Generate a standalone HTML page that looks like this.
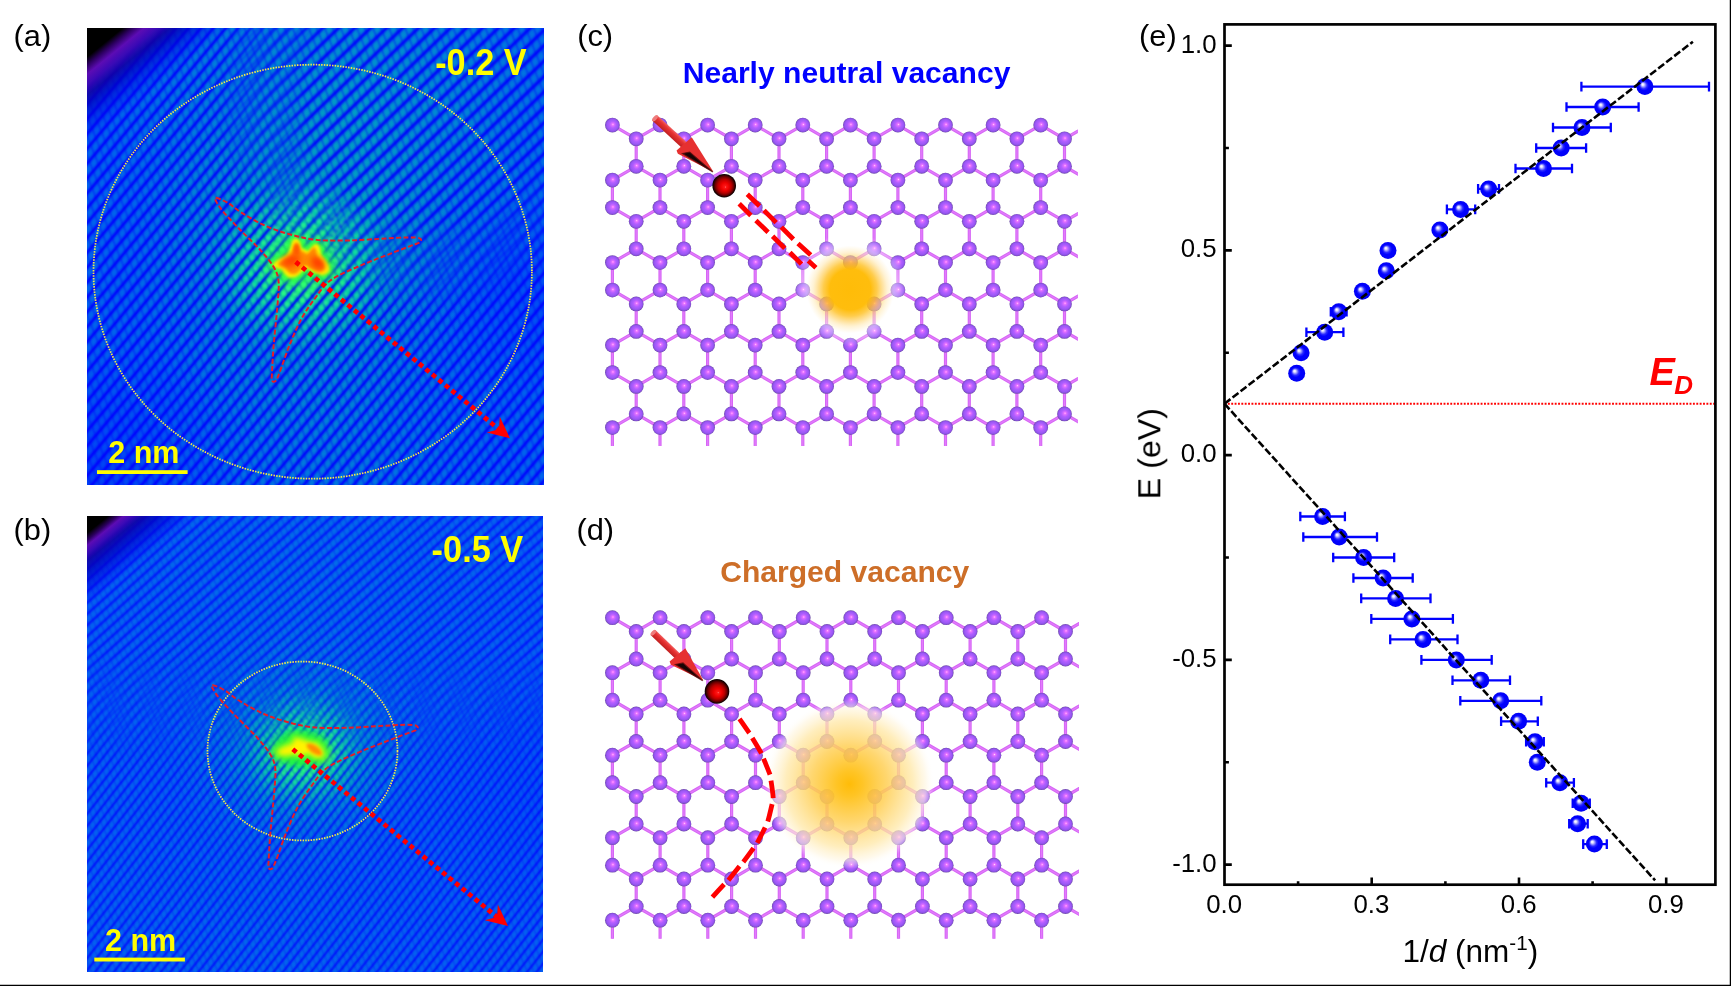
<!DOCTYPE html>
<html><head><meta charset="utf-8"><title>Figure</title>
<style>html,body{margin:0;padding:0;background:#fff;}body{width:1731px;height:986px;overflow:hidden;font-family:"Liberation Sans",sans-serif;}svg{display:block;}</style></head>
<body>
<svg width="1731" height="986" viewBox="0 0 1731 986" font-family='"Liberation Sans", sans-serif' fill="#000">
<defs>
<radialGradient id="ball" cx="0.5" cy="0.5" r="0.5" fx="0.36" fy="0.36">
<stop offset="0" stop-color="#ffffff"/><stop offset="0.12" stop-color="#e8e8ff"/><stop offset="0.42" stop-color="#2a2aff"/><stop offset="0.6" stop-color="#0000ff"/><stop offset="1" stop-color="#0000f4"/></radialGradient>
<linearGradient id="sgA1" x1="0" x2="1" y1="0" y2="0"><stop offset="0" stop-color="#0000ff" stop-opacity="0.950"/><stop offset="0.1" stop-color="#0000ff" stop-opacity="0.703"/><stop offset="0.2" stop-color="#0000ff" stop-opacity="0.323"/><stop offset="0.3" stop-color="#0000ff" stop-opacity="0.085"/><stop offset="0.4" stop-color="#0000ff" stop-opacity="0.009"/><stop offset="0.5" stop-color="#0000ff" stop-opacity="0.000"/><stop offset="0.6" stop-color="#0000ff" stop-opacity="0.009"/><stop offset="0.7" stop-color="#0000ff" stop-opacity="0.085"/><stop offset="0.8" stop-color="#0000ff" stop-opacity="0.323"/><stop offset="0.9" stop-color="#0000ff" stop-opacity="0.703"/><stop offset="1" stop-color="#0000ff" stop-opacity="0.950"/></linearGradient>
<pattern id="stripesA1" width="9.55" height="40" patternUnits="userSpaceOnUse" patternTransform="rotate(40)"><rect width="9.55" height="40" fill="url(#sgA1)"/></pattern>
<linearGradient id="sgA2" x1="0" x2="1" y1="0" y2="0"><stop offset="0" stop-color="#0000ff" stop-opacity="0.950"/><stop offset="0.1" stop-color="#0000ff" stop-opacity="0.703"/><stop offset="0.2" stop-color="#0000ff" stop-opacity="0.323"/><stop offset="0.3" stop-color="#0000ff" stop-opacity="0.085"/><stop offset="0.4" stop-color="#0000ff" stop-opacity="0.009"/><stop offset="0.5" stop-color="#0000ff" stop-opacity="0.000"/><stop offset="0.6" stop-color="#0000ff" stop-opacity="0.009"/><stop offset="0.7" stop-color="#0000ff" stop-opacity="0.085"/><stop offset="0.8" stop-color="#0000ff" stop-opacity="0.323"/><stop offset="0.9" stop-color="#0000ff" stop-opacity="0.703"/><stop offset="1" stop-color="#0000ff" stop-opacity="0.950"/></linearGradient>
<pattern id="stripesA2" width="11.1" height="40" patternUnits="userSpaceOnUse" patternTransform="rotate(46)"><rect width="11.1" height="40" fill="url(#sgA2)"/></pattern>
<radialGradient id="mgA1" gradientUnits="userSpaceOnUse" cx="430" cy="95" r="250"><stop offset="0" stop-color="#fff" stop-opacity="0"/><stop offset="0.5" stop-color="#fff" stop-opacity="0"/><stop offset="0.68" stop-color="#fff" stop-opacity="0.5"/><stop offset="0.86" stop-color="#fff" stop-opacity="1"/><stop offset="1" stop-color="#fff" stop-opacity="1"/></radialGradient>
<radialGradient id="mgA2" gradientUnits="userSpaceOnUse" cx="430" cy="95" r="250"><stop offset="0" stop-color="#fff" stop-opacity="1"/><stop offset="0.5" stop-color="#fff" stop-opacity="1"/><stop offset="0.68" stop-color="#fff" stop-opacity="0.5"/><stop offset="0.86" stop-color="#fff" stop-opacity="0"/><stop offset="1" stop-color="#fff" stop-opacity="0"/></radialGradient>
<mask id="mkA1" maskUnits="userSpaceOnUse" x="80" y="23" width="470" height="467"><rect x="80" y="23" width="470" height="467" fill="url(#mgA1)"/></mask>
<mask id="mkA2" maskUnits="userSpaceOnUse" x="80" y="23" width="470" height="467"><rect x="80" y="23" width="470" height="467" fill="url(#mgA2)"/></mask>
<linearGradient id="cgA" x1="0" x2="1" y1="0" y2="0"><stop offset="0" stop-color="#0000ff" stop-opacity="0.320"/><stop offset="0.1" stop-color="#0000ff" stop-opacity="0.237"/><stop offset="0.2" stop-color="#0000ff" stop-opacity="0.109"/><stop offset="0.3" stop-color="#0000ff" stop-opacity="0.029"/><stop offset="0.4" stop-color="#0000ff" stop-opacity="0.003"/><stop offset="0.5" stop-color="#0000ff" stop-opacity="0.000"/><stop offset="0.6" stop-color="#0000ff" stop-opacity="0.003"/><stop offset="0.7" stop-color="#0000ff" stop-opacity="0.029"/><stop offset="0.8" stop-color="#0000ff" stop-opacity="0.109"/><stop offset="0.9" stop-color="#0000ff" stop-opacity="0.237"/><stop offset="1" stop-color="#0000ff" stop-opacity="0.320"/></linearGradient>
<pattern id="crossA" width="7.45" height="40" patternUnits="userSpaceOnUse" patternTransform="rotate(-22)"><rect width="7.45" height="40" fill="url(#cgA)"/></pattern>
<pattern id="dotsA" width="9.55" height="6.49" patternUnits="userSpaceOnUse" patternTransform="rotate(40)"><ellipse cx="4.775" cy="3.25" rx="2.58" ry="2.34" fill="#3cff8c"/></pattern>
<radialGradient id="dmgA" gradientUnits="userSpaceOnUse" cx="301" cy="264" r="85"><stop offset="0" stop-color="#fff" stop-opacity="1"/><stop offset="0.35" stop-color="#fff" stop-opacity="0.8"/><stop offset="0.7" stop-color="#fff" stop-opacity="0.3"/><stop offset="1" stop-color="#fff" stop-opacity="0"/></radialGradient>
<mask id="dmkA" maskUnits="userSpaceOnUse" x="216" y="179" width="170" height="170"><rect x="216" y="179" width="170" height="170" fill="url(#dmgA)"/></mask>
<linearGradient id="sgB1" x1="0" x2="1" y1="0" y2="0"><stop offset="0" stop-color="#0000ff" stop-opacity="0.740"/><stop offset="0.1" stop-color="#0000ff" stop-opacity="0.548"/><stop offset="0.2" stop-color="#0000ff" stop-opacity="0.252"/><stop offset="0.3" stop-color="#0000ff" stop-opacity="0.067"/><stop offset="0.4" stop-color="#0000ff" stop-opacity="0.007"/><stop offset="0.5" stop-color="#0000ff" stop-opacity="0.000"/><stop offset="0.6" stop-color="#0000ff" stop-opacity="0.007"/><stop offset="0.7" stop-color="#0000ff" stop-opacity="0.067"/><stop offset="0.8" stop-color="#0000ff" stop-opacity="0.252"/><stop offset="0.9" stop-color="#0000ff" stop-opacity="0.548"/><stop offset="1" stop-color="#0000ff" stop-opacity="0.740"/></linearGradient>
<pattern id="stripesB1" width="7.4" height="40" patternUnits="userSpaceOnUse" patternTransform="rotate(38)"><rect width="7.4" height="40" fill="url(#sgB1)"/></pattern>
<linearGradient id="sgB2" x1="0" x2="1" y1="0" y2="0"><stop offset="0" stop-color="#0000ff" stop-opacity="0.720"/><stop offset="0.1" stop-color="#0000ff" stop-opacity="0.533"/><stop offset="0.2" stop-color="#0000ff" stop-opacity="0.245"/><stop offset="0.3" stop-color="#0000ff" stop-opacity="0.065"/><stop offset="0.4" stop-color="#0000ff" stop-opacity="0.007"/><stop offset="0.5" stop-color="#0000ff" stop-opacity="0.000"/><stop offset="0.6" stop-color="#0000ff" stop-opacity="0.007"/><stop offset="0.7" stop-color="#0000ff" stop-opacity="0.065"/><stop offset="0.8" stop-color="#0000ff" stop-opacity="0.245"/><stop offset="0.9" stop-color="#0000ff" stop-opacity="0.533"/><stop offset="1" stop-color="#0000ff" stop-opacity="0.720"/></linearGradient>
<pattern id="stripesB2" width="8.3" height="40" patternUnits="userSpaceOnUse" patternTransform="rotate(48)"><rect width="8.3" height="40" fill="url(#sgB2)"/></pattern>
<linearGradient id="mgB1" gradientUnits="userSpaceOnUse" x1="0" y1="516" x2="0" y2="972"><stop offset="0" stop-color="#fff" stop-opacity="0"/><stop offset="0.3" stop-color="#fff" stop-opacity="0"/><stop offset="0.42" stop-color="#fff" stop-opacity="0.5"/><stop offset="0.54" stop-color="#fff" stop-opacity="1"/><stop offset="1" stop-color="#fff" stop-opacity="1"/></linearGradient>
<linearGradient id="mgB2" gradientUnits="userSpaceOnUse" x1="0" y1="516" x2="0" y2="972"><stop offset="0" stop-color="#fff" stop-opacity="1"/><stop offset="0.3" stop-color="#fff" stop-opacity="1"/><stop offset="0.42" stop-color="#fff" stop-opacity="0.5"/><stop offset="0.54" stop-color="#fff" stop-opacity="0"/><stop offset="1" stop-color="#fff" stop-opacity="0"/></linearGradient>
<mask id="mkB1" maskUnits="userSpaceOnUse" x="80" y="511" width="470" height="466"><rect x="80" y="511" width="470" height="466" fill="url(#mgB1)"/></mask>
<mask id="mkB2" maskUnits="userSpaceOnUse" x="80" y="511" width="470" height="466"><rect x="80" y="511" width="470" height="466" fill="url(#mgB2)"/></mask>
<linearGradient id="cgB" x1="0" x2="1" y1="0" y2="0"><stop offset="0" stop-color="#0000ff" stop-opacity="0.200"/><stop offset="0.1" stop-color="#0000ff" stop-opacity="0.148"/><stop offset="0.2" stop-color="#0000ff" stop-opacity="0.068"/><stop offset="0.3" stop-color="#0000ff" stop-opacity="0.018"/><stop offset="0.4" stop-color="#0000ff" stop-opacity="0.002"/><stop offset="0.5" stop-color="#0000ff" stop-opacity="0.000"/><stop offset="0.6" stop-color="#0000ff" stop-opacity="0.002"/><stop offset="0.7" stop-color="#0000ff" stop-opacity="0.018"/><stop offset="0.8" stop-color="#0000ff" stop-opacity="0.068"/><stop offset="0.9" stop-color="#0000ff" stop-opacity="0.148"/><stop offset="1" stop-color="#0000ff" stop-opacity="0.200"/></linearGradient>
<pattern id="crossB" width="5.77" height="40" patternUnits="userSpaceOnUse" patternTransform="rotate(-24)"><rect width="5.77" height="40" fill="url(#cgB)"/></pattern>
<pattern id="dotsB" width="7.4" height="5.03" patternUnits="userSpaceOnUse" patternTransform="rotate(38)"><ellipse cx="3.7" cy="2.52" rx="2.00" ry="1.81" fill="#3cff8c"/></pattern>
<radialGradient id="dmgB" gradientUnits="userSpaceOnUse" cx="304" cy="750" r="60"><stop offset="0" stop-color="#fff" stop-opacity="1"/><stop offset="0.35" stop-color="#fff" stop-opacity="0.8"/><stop offset="0.7" stop-color="#fff" stop-opacity="0.3"/><stop offset="1" stop-color="#fff" stop-opacity="0"/></radialGradient>
<mask id="dmkB" maskUnits="userSpaceOnUse" x="244" y="690" width="120" height="120"><rect x="244" y="690" width="120" height="120" fill="url(#dmgB)"/></mask>
<filter id="bl1" x="-30%" y="-30%" width="160%" height="160%"><feGaussianBlur stdDeviation="1.3"/></filter>
<filter id="bl2" x="-30%" y="-30%" width="160%" height="160%"><feGaussianBlur stdDeviation="1.8"/></filter>
<filter id="bl3" x="-30%" y="-30%" width="160%" height="160%"><feGaussianBlur stdDeviation="3"/></filter>
<filter id="bl8" x="-50%" y="-50%" width="200%" height="200%"><feGaussianBlur stdDeviation="8"/></filter>
<filter id="bl20" x="-60%" y="-60%" width="220%" height="220%"><feGaussianBlur stdDeviation="20"/></filter>
<filter id="bl14" x="-50%" y="-50%" width="200%" height="200%"><feGaussianBlur stdDeviation="14"/></filter>
<linearGradient id="cornA" gradientUnits="userSpaceOnUse" x1="87" y1="28" x2="143.7" y2="97.9"><stop offset="0" stop-color="#000"/><stop offset="0.25" stop-color="#000"/><stop offset="0.32" stop-color="#2c0060"/><stop offset="0.40" stop-color="#5c0cb4"/><stop offset="0.49" stop-color="#3c08b4" stop-opacity="0.97"/><stop offset="0.58" stop-color="#1000a4" stop-opacity="0.9"/><stop offset="0.68" stop-color="#0000c0" stop-opacity="0.75"/><stop offset="0.8" stop-color="#0000e0" stop-opacity="0.5"/><stop offset="1" stop-color="#0000ff" stop-opacity="0"/></linearGradient>
<clipPath id="clipA"><rect x="87" y="28" width="457" height="457"/></clipPath>
<radialGradient id="lgA0" gradientUnits="userSpaceOnUse" cx="350" cy="110" r="240"><stop offset="0" stop-color="#00a2c2" stop-opacity="0.92"/><stop offset="0.5" stop-color="#00a2c2" stop-opacity="0.51"/><stop offset="1" stop-color="#00a2c2" stop-opacity="0"/></radialGradient>
<radialGradient id="lgA1" gradientUnits="userSpaceOnUse" cx="330" cy="430" r="170"><stop offset="0" stop-color="#0088d2" stop-opacity="0.75"/><stop offset="0.5" stop-color="#0088d2" stop-opacity="0.41"/><stop offset="1" stop-color="#0088d2" stop-opacity="0"/></radialGradient>
<radialGradient id="lgA2" gradientUnits="userSpaceOnUse" cx="300" cy="265" r="175"><stop offset="0" stop-color="#00c8a0" stop-opacity="0.5"/><stop offset="0.5" stop-color="#00c8a0" stop-opacity="0.28"/><stop offset="1" stop-color="#00c8a0" stop-opacity="0"/></radialGradient>
<radialGradient id="lgA3" gradientUnits="userSpaceOnUse" cx="90" cy="480" r="150"><stop offset="0" stop-color="#0038f8" stop-opacity="0.8"/><stop offset="0.5" stop-color="#0038f8" stop-opacity="0.44"/><stop offset="1" stop-color="#0038f8" stop-opacity="0"/></radialGradient>
<radialGradient id="lgA4" gradientUnits="userSpaceOnUse" cx="560" cy="300" r="110"><stop offset="0" stop-color="#0040f8" stop-opacity="0.7"/><stop offset="0.5" stop-color="#0040f8" stop-opacity="0.39"/><stop offset="1" stop-color="#0040f8" stop-opacity="0"/></radialGradient>
<linearGradient id="cornB" gradientUnits="userSpaceOnUse" x1="87" y1="516" x2="131.1" y2="570.4"><stop offset="0" stop-color="#000"/><stop offset="0.19" stop-color="#000"/><stop offset="0.27" stop-color="#2c0060"/><stop offset="0.33" stop-color="#5c0cb4"/><stop offset="0.41" stop-color="#3c08b4" stop-opacity="0.97"/><stop offset="0.5" stop-color="#1000a4" stop-opacity="0.9"/><stop offset="0.64" stop-color="#0000c0" stop-opacity="0.75"/><stop offset="0.8" stop-color="#0000e0" stop-opacity="0.5"/><stop offset="1" stop-color="#0000ff" stop-opacity="0"/></linearGradient>
<clipPath id="clipB"><rect x="87" y="516" width="456" height="456"/></clipPath>
<radialGradient id="lgB0" gradientUnits="userSpaceOnUse" cx="300" cy="600" r="230"><stop offset="0" stop-color="#0084da" stop-opacity="0.4"/><stop offset="0.5" stop-color="#0084da" stop-opacity="0.22"/><stop offset="1" stop-color="#0084da" stop-opacity="0"/></radialGradient>
<radialGradient id="lgB1" gradientUnits="userSpaceOnUse" cx="303" cy="752" r="130"><stop offset="0" stop-color="#00b4b0" stop-opacity="0.45"/><stop offset="0.5" stop-color="#00b4b0" stop-opacity="0.25"/><stop offset="1" stop-color="#00b4b0" stop-opacity="0"/></radialGradient>
<radialGradient id="lgB2" gradientUnits="userSpaceOnUse" cx="250" cy="930" r="170"><stop offset="0" stop-color="#0070e4" stop-opacity="0.4"/><stop offset="0.5" stop-color="#0070e4" stop-opacity="0.22"/><stop offset="1" stop-color="#0070e4" stop-opacity="0"/></radialGradient>
<radialGradient id="lgB3" gradientUnits="userSpaceOnUse" cx="560" cy="800" r="130"><stop offset="0" stop-color="#0040f8" stop-opacity="0.5"/><stop offset="0.5" stop-color="#0040f8" stop-opacity="0.28"/><stop offset="1" stop-color="#0040f8" stop-opacity="0"/></radialGradient>
<radialGradient id="atom" cx="0.5" cy="0.5" r="0.5" fx="0.54" fy="0.45"><stop offset="0" stop-color="#ffe0ff"/><stop offset="0.09" stop-color="#f686ff"/><stop offset="0.2" stop-color="#dc6eff"/><stop offset="0.45" stop-color="#b25eff"/><stop offset="0.74" stop-color="#9c58f6"/><stop offset="0.9" stop-color="#8850dc"/><stop offset="1" stop-color="#66469e"/></radialGradient>
<radialGradient id="rball" cx="0.5" cy="0.5" r="0.5" fx="0.55" fy="0.56"><stop offset="0" stop-color="#ff9090"/><stop offset="0.07" stop-color="#ff1818"/><stop offset="0.34" stop-color="#ec0000"/><stop offset="0.58" stop-color="#b80000"/><stop offset="0.78" stop-color="#6c0000"/><stop offset="0.92" stop-color="#240000"/><stop offset="1" stop-color="#000"/></radialGradient>
<radialGradient id="glowC" gradientUnits="userSpaceOnUse" cx="850.2" cy="289.4" r="57"><stop offset="0" stop-color="#ffbc08"/><stop offset="0.36" stop-color="#ffbc08" stop-opacity="0.98"/><stop offset="0.47" stop-color="#ffc020" stop-opacity="0.8"/><stop offset="0.56" stop-color="#ffd060" stop-opacity="0.66"/><stop offset="0.65" stop-color="#ffe8b0" stop-opacity="0.55"/><stop offset="0.77" stop-color="#ffffff" stop-opacity="0.46"/><stop offset="0.9" stop-color="#ffffff" stop-opacity="0.22"/><stop offset="1" stop-color="#ffffff" stop-opacity="0"/></radialGradient>
<radialGradient id="glowD" gradientUnits="userSpaceOnUse" cx="849.4" cy="784" r="85"><stop offset="0" stop-color="#ffbc08" stop-opacity="1"/><stop offset="0.15" stop-color="#ffc21c" stop-opacity="0.96"/><stop offset="0.45" stop-color="#ffd058" stop-opacity="0.86"/><stop offset="0.75" stop-color="#ffe8a8" stop-opacity="0.76"/><stop offset="0.9" stop-color="#fff6e0" stop-opacity="0.6"/><stop offset="1" stop-color="#ffffff" stop-opacity="0"/></radialGradient>
<linearGradient id="headsh" x1="0" y1="0" x2="0" y2="1"><stop offset="0" stop-color="#e83030"/><stop offset="0.5" stop-color="#e22c2c"/><stop offset="0.62" stop-color="#701010"/><stop offset="0.8" stop-color="#000"/><stop offset="1" stop-color="#e03030"/></linearGradient>
<linearGradient id="shaft" x1="0" y1="0" x2="0" y2="1"><stop offset="0" stop-color="#f06060"/><stop offset="0.35" stop-color="#e83232"/><stop offset="1" stop-color="#c02020"/></linearGradient>
<symbol id="at" viewBox="-7.5 -7.5 15 15" overflow="visible"><circle r="7.35" fill="url(#atom)"/></symbol>
<clipPath id="lcC"><rect x="604.5" y="112" width="473.4" height="334.10"/></clipPath>
<clipPath id="lcD"><rect x="604.5" y="604" width="474.5" height="334.65"/></clipPath>
</defs>
<g clip-path="url(#clipA)">
<rect x="87" y="28" width="457" height="457" fill="#0064ec"/>
<rect x="87" y="28" width="457" height="457" fill="url(#lgA0)"/>
<rect x="87" y="28" width="457" height="457" fill="url(#lgA1)"/>
<rect x="87" y="28" width="457" height="457" fill="url(#lgA2)"/>
<rect x="87" y="28" width="457" height="457" fill="url(#lgA3)"/>
<rect x="87" y="28" width="457" height="457" fill="url(#lgA4)"/>
<ellipse cx="305" cy="266" rx="82" ry="66" fill="#00e6a0" opacity="0.62" filter="url(#bl20)"/><ellipse cx="303" cy="267" rx="50" ry="42" fill="#10f878" opacity="0.7" filter="url(#bl14)"/><ellipse cx="301" cy="266" rx="30" ry="25" fill="#30ff50" opacity="0.9" filter="url(#bl8)"/>
<rect x="87" y="28" width="457" height="457" fill="url(#stripesA1)" mask="url(#mkA1)"/>
<rect x="87" y="28" width="457" height="457" fill="url(#stripesA2)" mask="url(#mkA2)"/>
<rect x="87" y="28" width="457" height="457" fill="url(#crossA)"/>
<rect x="87" y="28" width="457" height="457" fill="url(#dotsA)" mask="url(#dmkA)" filter="url(#bl1)"/>
<ellipse cx="301" cy="262" rx="34" ry="25" fill="#20ff50" opacity="0.5" filter="url(#bl8)"/><path d="M274.4 264.6C274.9 263.4 278.5 261.3 280.8 259.8C283.1 258.3 286.3 257.6 288.1 255.7C289.9 253.8 290.4 250.8 291.4 248.4C292.3 246.0 292.9 242.5 293.8 241.1C294.7 239.7 295.9 239.6 296.7 239.9C297.5 240.2 298.1 241.3 298.7 242.7C299.3 244.1 299.2 247.0 300.3 248.4C301.4 249.8 303.9 250.6 305.2 251.2C306.5 251.9 307.2 253.0 308.4 252.5C309.6 252.0 311.3 249.6 312.5 248.4C313.7 247.2 314.7 245.4 315.7 245.3C316.7 245.2 317.9 246.4 318.6 248.0C319.3 249.6 319.1 252.9 319.8 254.9C320.6 256.9 321.9 258.0 323.1 259.8C324.3 261.6 326.3 263.8 327.1 265.5C327.9 267.2 328.6 268.9 327.9 270.3C327.2 271.7 325.0 273.3 323.1 273.6C321.2 273.9 318.8 272.7 316.6 271.9C314.4 271.1 311.7 269.6 310.1 268.7C308.5 267.8 307.9 266.3 306.8 266.3C305.7 266.3 305.0 267.6 303.6 268.7C302.2 269.8 300.1 271.6 298.7 272.8C297.3 274.0 297.1 275.1 295.5 275.6C293.9 276.1 290.8 276.6 289.0 276.0C287.2 275.4 286.0 273.2 284.9 271.9C283.8 270.6 283.7 269.1 282.5 268.3C281.3 267.5 279.0 267.7 277.6 267.1C276.2 266.5 273.9 265.8 274.4 264.6Z" fill="#30ff30" stroke="#30ff30" stroke-width="9" stroke-linejoin="round" filter="url(#bl3)" opacity="0.9"/><path d="M274.4 264.6C274.9 263.4 278.5 261.3 280.8 259.8C283.1 258.3 286.3 257.6 288.1 255.7C289.9 253.8 290.4 250.8 291.4 248.4C292.3 246.0 292.9 242.5 293.8 241.1C294.7 239.7 295.9 239.6 296.7 239.9C297.5 240.2 298.1 241.3 298.7 242.7C299.3 244.1 299.2 247.0 300.3 248.4C301.4 249.8 303.9 250.6 305.2 251.2C306.5 251.9 307.2 253.0 308.4 252.5C309.6 252.0 311.3 249.6 312.5 248.4C313.7 247.2 314.7 245.4 315.7 245.3C316.7 245.2 317.9 246.4 318.6 248.0C319.3 249.6 319.1 252.9 319.8 254.9C320.6 256.9 321.9 258.0 323.1 259.8C324.3 261.6 326.3 263.8 327.1 265.5C327.9 267.2 328.6 268.9 327.9 270.3C327.2 271.7 325.0 273.3 323.1 273.6C321.2 273.9 318.8 272.7 316.6 271.9C314.4 271.1 311.7 269.6 310.1 268.7C308.5 267.8 307.9 266.3 306.8 266.3C305.7 266.3 305.0 267.6 303.6 268.7C302.2 269.8 300.1 271.6 298.7 272.8C297.3 274.0 297.1 275.1 295.5 275.6C293.9 276.1 290.8 276.6 289.0 276.0C287.2 275.4 286.0 273.2 284.9 271.9C283.8 270.6 283.7 269.1 282.5 268.3C281.3 267.5 279.0 267.7 277.6 267.1C276.2 266.5 273.9 265.8 274.4 264.6Z" fill="#fff000" stroke="#fff000" stroke-width="3" stroke-linejoin="round" filter="url(#bl2)"/><path d="M274.4 264.6C274.9 263.4 278.5 261.3 280.8 259.8C283.1 258.3 286.3 257.6 288.1 255.7C289.9 253.8 290.4 250.8 291.4 248.4C292.3 246.0 292.9 242.5 293.8 241.1C294.7 239.7 295.9 239.6 296.7 239.9C297.5 240.2 298.1 241.3 298.7 242.7C299.3 244.1 299.2 247.0 300.3 248.4C301.4 249.8 303.9 250.6 305.2 251.2C306.5 251.9 307.2 253.0 308.4 252.5C309.6 252.0 311.3 249.6 312.5 248.4C313.7 247.2 314.7 245.4 315.7 245.3C316.7 245.2 317.9 246.4 318.6 248.0C319.3 249.6 319.1 252.9 319.8 254.9C320.6 256.9 321.9 258.0 323.1 259.8C324.3 261.6 326.3 263.8 327.1 265.5C327.9 267.2 328.6 268.9 327.9 270.3C327.2 271.7 325.0 273.3 323.1 273.6C321.2 273.9 318.8 272.7 316.6 271.9C314.4 271.1 311.7 269.6 310.1 268.7C308.5 267.8 307.9 266.3 306.8 266.3C305.7 266.3 305.0 267.6 303.6 268.7C302.2 269.8 300.1 271.6 298.7 272.8C297.3 274.0 297.1 275.1 295.5 275.6C293.9 276.1 290.8 276.6 289.0 276.0C287.2 275.4 286.0 273.2 284.9 271.9C283.8 270.6 283.7 269.1 282.5 268.3C281.3 267.5 279.0 267.7 277.6 267.1C276.2 266.5 273.9 265.8 274.4 264.6Z" fill="#ff8a00" transform="translate(301 260) scale(0.86) translate(-301 -260)" filter="url(#bl2)"/><ellipse cx="291" cy="260.5" rx="10" ry="5.5" transform="rotate(-24 291 260.5)" fill="#ff4200" filter="url(#bl3)"/><ellipse cx="318" cy="263" rx="8" ry="5.5" transform="rotate(40 318 263)" fill="#ff3a00" filter="url(#bl3)"/><ellipse cx="296.5" cy="250" rx="3" ry="6" fill="#ff5a00" filter="url(#bl2)"/>
<rect x="87" y="28" width="200" height="200" fill="url(#cornA)"/>
</g>
<ellipse cx="312.7" cy="271.7" rx="219.2" ry="207" fill="none" stroke="#f4ea48" stroke-width="1.75" stroke-dasharray="1.5 1.2"/>
<path d="M216.0 197.7C218.1 198.0 224.6 200.9 228.7 203.3C232.8 205.8 234.8 208.6 240.9 212.3C247.0 216.1 257.1 222.1 265.2 225.7C273.3 229.4 281.0 231.9 289.6 234.3C298.1 236.6 306.2 238.8 316.4 239.9C326.5 240.9 338.7 240.6 350.4 240.4C362.2 240.1 377.2 238.9 387.0 238.4C396.7 237.9 403.4 237.4 408.9 237.4C414.4 237.4 418.0 237.6 419.8 238.4C421.7 239.2 421.3 241.1 419.8 242.3C418.4 243.5 416.8 243.6 411.3 245.7C405.8 247.8 395.1 251.8 387.0 255.0C378.8 258.1 370.7 261.2 362.6 264.7C354.5 268.1 344.4 272.4 338.3 275.7C332.2 278.9 329.7 280.7 326.1 284.2C322.4 287.6 320.4 290.7 316.4 296.4C312.3 302.0 306.2 310.2 301.7 318.3C297.3 326.4 293.2 336.1 289.6 345.0C285.9 354.0 282.2 365.8 279.8 371.8C277.5 377.8 276.7 379.7 275.4 381.1C274.1 382.5 272.6 381.9 272.0 380.4C271.5 378.8 271.8 377.7 272.0 371.8C272.3 365.9 272.8 356.0 273.7 345.0C274.6 334.1 276.6 316.6 277.4 306.1C278.2 295.5 279.2 288.2 278.6 281.7C278.0 275.3 276.8 272.4 273.7 267.1C270.7 261.9 265.8 256.2 260.4 250.1C254.9 244.0 247.0 236.9 240.9 230.6C234.8 224.3 227.9 217.1 223.8 212.3C219.8 207.6 217.8 204.3 216.5 201.9C215.2 199.4 214.0 197.5 216.0 197.7Z" fill="none" stroke="#e61c26" stroke-width="1.95" stroke-dasharray="5 2.3"/>
<g transform="translate(297.6 263.5) rotate(39.47)"><line x1="-2.5" y1="0" x2="266.1" y2="0" stroke="#ff0000" stroke-width="4.7" stroke-dasharray="4.7 3.72"/><path d="M275.1 0L253.5 -10.3L260.9 0L253.5 10.3Z" fill="#ff0000"/></g>
<g clip-path="url(#clipB)">
<rect x="87" y="516" width="456" height="456" fill="#0460f0"/>
<rect x="87" y="516" width="456" height="456" fill="url(#lgB0)"/>
<rect x="87" y="516" width="456" height="456" fill="url(#lgB1)"/>
<rect x="87" y="516" width="456" height="456" fill="url(#lgB2)"/>
<rect x="87" y="516" width="456" height="456" fill="url(#lgB3)"/>
<ellipse cx="304" cy="752" rx="62" ry="50" fill="#00e6a0" opacity="0.5" filter="url(#bl20)"/><ellipse cx="303" cy="753" rx="38" ry="30" fill="#10f878" opacity="0.65" filter="url(#bl14)"/><ellipse cx="303" cy="751" rx="26" ry="17" fill="#30ff50" opacity="0.9" filter="url(#bl8)"/>
<rect x="87" y="516" width="456" height="456" fill="url(#stripesB1)" mask="url(#mkB1)"/>
<rect x="87" y="516" width="456" height="456" fill="url(#stripesB2)" mask="url(#mkB2)"/>
<rect x="87" y="516" width="456" height="456" fill="url(#crossB)"/>
<rect x="87" y="516" width="456" height="456" fill="url(#dotsB)" mask="url(#dmkB)" filter="url(#bl1)"/>
<ellipse cx="301" cy="748.5" rx="27" ry="18" fill="#10f040" opacity="0.85" filter="url(#bl3)"/><path d="M274.5 752.2C274.9 750.6 279.0 748.1 281.8 746.5C284.6 744.9 289.5 744.1 291.5 742.5C293.5 740.9 292.8 737.6 294.0 736.8C295.2 736.0 296.7 737.1 298.8 737.6C300.9 738.1 304.7 739.3 306.9 740.0C309.1 740.7 309.9 741.3 311.8 741.7C313.7 742.1 316.3 741.3 318.3 742.5C320.3 743.7 322.6 746.8 324.0 749.0C325.4 751.2 326.7 753.9 326.4 755.5C326.1 757.1 324.3 758.3 322.4 758.7C320.5 759.1 317.4 758.7 315.1 757.9C312.8 757.1 310.5 754.1 308.6 753.8C306.7 753.5 305.3 756.0 303.7 756.3C302.1 756.6 300.6 755.9 298.8 755.5C297.0 755.1 295.0 754.1 293.1 754.2C291.2 754.3 289.8 755.6 287.5 755.9C285.2 756.2 281.6 756.5 279.4 755.9C277.2 755.3 274.1 753.8 274.5 752.2Z" fill="#60ff20" stroke="#60ff20" stroke-width="7" stroke-linejoin="round" filter="url(#bl3)" opacity="0.9"/><path d="M274.5 752.2C274.9 750.6 279.0 748.1 281.8 746.5C284.6 744.9 289.5 744.1 291.5 742.5C293.5 740.9 292.8 737.6 294.0 736.8C295.2 736.0 296.7 737.1 298.8 737.6C300.9 738.1 304.7 739.3 306.9 740.0C309.1 740.7 309.9 741.3 311.8 741.7C313.7 742.1 316.3 741.3 318.3 742.5C320.3 743.7 322.6 746.8 324.0 749.0C325.4 751.2 326.7 753.9 326.4 755.5C326.1 757.1 324.3 758.3 322.4 758.7C320.5 759.1 317.4 758.7 315.1 757.9C312.8 757.1 310.5 754.1 308.6 753.8C306.7 753.5 305.3 756.0 303.7 756.3C302.1 756.6 300.6 755.9 298.8 755.5C297.0 755.1 295.0 754.1 293.1 754.2C291.2 754.3 289.8 755.6 287.5 755.9C285.2 756.2 281.6 756.5 279.4 755.9C277.2 755.3 274.1 753.8 274.5 752.2Z" fill="#fff400" transform="translate(301 749) scale(0.9) translate(-301 -749)" filter="url(#bl3)"/><ellipse cx="314.2" cy="749.4" rx="9" ry="3.8" transform="rotate(35 314.2 749.4)" fill="#ff9000" filter="url(#bl2)"/>
<rect x="87" y="516" width="160" height="160" fill="url(#cornB)"/>
</g>
<ellipse cx="302.5" cy="751" rx="95" ry="89.5" fill="none" stroke="#f4ea48" stroke-width="1.75" stroke-dasharray="1.5 1.2"/>
<path d="M212.7 685.1C214.8 685.4 221.3 688.3 225.4 690.7C229.5 693.2 231.5 696.0 237.6 699.7C243.7 703.5 253.8 709.5 261.9 713.1C270.0 716.8 277.7 719.3 286.3 721.7C294.8 724.0 302.9 726.2 313.1 727.3C323.2 728.3 335.4 728.0 347.1 727.8C358.9 727.5 373.9 726.3 383.7 725.8C393.4 725.3 400.1 724.8 405.6 724.8C411.1 724.8 414.7 725.0 416.5 725.8C418.4 726.6 418.0 728.5 416.5 729.7C415.1 730.9 413.5 731.0 408.0 733.1C402.5 735.2 391.8 739.2 383.7 742.4C375.5 745.5 367.4 748.6 359.3 752.1C351.2 755.5 341.1 759.8 335.0 763.1C328.9 766.3 326.4 768.1 322.8 771.6C319.1 775.0 317.1 778.1 313.1 783.8C309.0 789.4 302.9 797.6 298.4 805.7C294.0 813.8 289.9 823.5 286.3 832.4C282.6 841.4 278.9 853.2 276.5 859.2C274.2 865.2 273.4 867.1 272.1 868.5C270.8 869.9 269.3 869.3 268.7 867.8C268.2 866.2 268.5 865.1 268.7 859.2C269.0 853.3 269.5 843.4 270.4 832.4C271.3 821.5 273.3 804.0 274.1 793.5C274.9 782.9 275.9 775.6 275.3 769.1C274.7 762.7 273.5 759.8 270.4 754.5C267.4 749.3 262.5 743.6 257.1 737.5C251.6 731.4 243.7 724.3 237.6 718.0C231.5 711.7 224.6 704.5 220.5 699.7C216.5 695.0 214.5 691.7 213.2 689.3C211.9 686.8 210.7 684.9 212.7 685.1Z" fill="none" stroke="#e61c26" stroke-width="1.95" stroke-dasharray="5 2.3"/>
<g transform="translate(294.7 750.8) rotate(39.41)"><line x1="-2.5" y1="0" x2="267.1" y2="0" stroke="#ff0000" stroke-width="4.7" stroke-dasharray="4.7 3.72"/><path d="M276.1 0L254.5 -10.3L261.9 0L254.5 10.3Z" fill="#ff0000"/></g>
<g opacity="0.999"><text transform="translate(526.6 74.5) scale(1.008 1.073)" font-size="34" font-weight="bold" fill="#ffff00" text-anchor="end">-0.2 V</text>
<text transform="translate(523.2 561.9) scale(1.01 1.06)" font-size="34" font-weight="bold" fill="#ffff00" text-anchor="end">-0.5 V</text>
<text x="143.8" y="463" font-size="30.5" font-weight="bold" fill="#ffff00" text-anchor="middle">2 nm</text>
<rect x="97" y="470.2" width="90.6" height="3.8" fill="#ffff00"/>
<text x="140.65" y="950.65" font-size="30.5" font-weight="bold" fill="#ffff00" text-anchor="middle">2 nm</text>
<rect x="94.3" y="957.6" width="90.6" height="3.9" fill="#ffff00"/></g>
<g clip-path="url(#lcC)">
<path d="M612.4 125.1L636.2 138.8M636.2 138.8L636.2 166.3M636.2 166.3L612.4 180.1M636.2 166.3L660.0 180.1M612.4 180.1L612.4 207.6M660.0 125.1L683.8 138.8M660.0 125.1L636.2 138.8M683.8 138.8L683.8 166.3M683.8 166.3L660.0 180.1M683.8 166.3L707.6 180.1M660.0 180.1L660.0 207.6M707.6 125.1L731.4 138.8M707.6 125.1L683.8 138.8M731.4 138.8L731.4 166.3M731.4 166.3L707.6 180.1M731.4 166.3L755.2 180.1M707.6 180.1L707.6 207.6M755.2 125.1L779.0 138.8M755.2 125.1L731.4 138.8M779.0 138.8L779.0 166.3M779.0 166.3L755.2 180.1M779.0 166.3L802.8 180.1M755.2 180.1L755.2 207.6M802.8 125.1L826.6 138.8M802.8 125.1L779.0 138.8M826.6 138.8L826.6 166.3M826.6 166.3L802.8 180.1M826.6 166.3L850.4 180.1M802.8 180.1L802.8 207.6M850.4 125.1L874.1 138.8M850.4 125.1L826.6 138.8M874.1 138.8L874.1 166.3M874.1 166.3L850.4 180.1M874.1 166.3L897.9 180.1M850.4 180.1L850.4 207.6M897.9 125.1L921.7 138.8M897.9 125.1L874.1 138.8M921.7 138.8L921.7 166.3M921.7 166.3L897.9 180.1M921.7 166.3L945.5 180.1M897.9 180.1L897.9 207.6M945.5 125.1L969.3 138.8M945.5 125.1L921.7 138.8M969.3 138.8L969.3 166.3M969.3 166.3L945.5 180.1M969.3 166.3L993.1 180.1M945.5 180.1L945.5 207.6M993.1 125.1L1016.9 138.8M993.1 125.1L969.3 138.8M1016.9 138.8L1016.9 166.3M1016.9 166.3L993.1 180.1M1016.9 166.3L1040.7 180.1M993.1 180.1L993.1 207.6M1040.7 125.1L1064.5 138.8M1040.7 125.1L1016.9 138.8M1064.5 138.8L1064.5 166.3M1064.5 166.3L1040.7 180.1M1064.5 166.3L1088.3 180.1M1040.7 180.1L1040.7 207.6M1088.3 125.1L1112.1 138.8M1088.3 125.1L1064.5 138.8M1112.1 138.8L1112.1 166.3M1112.1 166.3L1088.3 180.1M1112.1 166.3L1135.9 180.1M1088.3 180.1L1088.3 207.6M612.4 207.6L636.2 221.3M636.2 221.3L636.2 248.8M636.2 248.8L612.4 262.6M636.2 248.8L660.0 262.6M612.4 262.6L612.4 290.1M660.0 207.6L683.8 221.3M660.0 207.6L636.2 221.3M683.8 221.3L683.8 248.8M683.8 248.8L660.0 262.6M683.8 248.8L707.6 262.6M660.0 262.6L660.0 290.1M707.6 207.6L731.4 221.3M707.6 207.6L683.8 221.3M731.4 221.3L731.4 248.8M731.4 248.8L707.6 262.6M731.4 248.8L755.2 262.6M707.6 262.6L707.6 290.1M755.2 207.6L779.0 221.3M755.2 207.6L731.4 221.3M779.0 221.3L779.0 248.8M779.0 248.8L755.2 262.6M779.0 248.8L802.8 262.6M755.2 262.6L755.2 290.1M802.8 207.6L826.6 221.3M802.8 207.6L779.0 221.3M826.6 221.3L826.6 248.8M826.6 248.8L802.8 262.6M826.6 248.8L850.4 262.6M802.8 262.6L802.8 290.1M850.4 207.6L874.1 221.3M850.4 207.6L826.6 221.3M874.1 221.3L874.1 248.8M874.1 248.8L850.4 262.6M874.1 248.8L897.9 262.6M897.9 207.6L921.7 221.3M897.9 207.6L874.1 221.3M921.7 221.3L921.7 248.8M921.7 248.8L897.9 262.6M921.7 248.8L945.5 262.6M897.9 262.6L897.9 290.1M945.5 207.6L969.3 221.3M945.5 207.6L921.7 221.3M969.3 221.3L969.3 248.8M969.3 248.8L945.5 262.6M969.3 248.8L993.1 262.6M945.5 262.6L945.5 290.1M993.1 207.6L1016.9 221.3M993.1 207.6L969.3 221.3M1016.9 221.3L1016.9 248.8M1016.9 248.8L993.1 262.6M1016.9 248.8L1040.7 262.6M993.1 262.6L993.1 290.1M1040.7 207.6L1064.5 221.3M1040.7 207.6L1016.9 221.3M1064.5 221.3L1064.5 248.8M1064.5 248.8L1040.7 262.6M1064.5 248.8L1088.3 262.6M1040.7 262.6L1040.7 290.1M1088.3 207.6L1112.1 221.3M1088.3 207.6L1064.5 221.3M1112.1 221.3L1112.1 248.8M1112.1 248.8L1088.3 262.6M1112.1 248.8L1135.9 262.6M1088.3 262.6L1088.3 290.1M612.4 290.1L636.2 303.9M636.2 303.9L636.2 331.4M636.2 331.4L612.4 345.1M636.2 331.4L660.0 345.1M612.4 345.1L612.4 372.6M660.0 290.1L683.8 303.9M660.0 290.1L636.2 303.9M683.8 303.9L683.8 331.4M683.8 331.4L660.0 345.1M683.8 331.4L707.6 345.1M660.0 345.1L660.0 372.6M707.6 290.1L731.4 303.9M707.6 290.1L683.8 303.9M731.4 303.9L731.4 331.4M731.4 331.4L707.6 345.1M731.4 331.4L755.2 345.1M707.6 345.1L707.6 372.6M755.2 290.1L779.0 303.9M755.2 290.1L731.4 303.9M779.0 303.9L779.0 331.4M779.0 331.4L755.2 345.1M779.0 331.4L802.8 345.1M755.2 345.1L755.2 372.6M802.8 290.1L826.6 303.9M802.8 290.1L779.0 303.9M826.6 303.9L826.6 331.4M826.6 331.4L802.8 345.1M826.6 331.4L850.4 345.1M802.8 345.1L802.8 372.6M874.1 303.9L874.1 331.4M874.1 331.4L850.4 345.1M874.1 331.4L897.9 345.1M850.4 345.1L850.4 372.6M897.9 290.1L921.7 303.9M897.9 290.1L874.1 303.9M921.7 303.9L921.7 331.4M921.7 331.4L897.9 345.1M921.7 331.4L945.5 345.1M897.9 345.1L897.9 372.6M945.5 290.1L969.3 303.9M945.5 290.1L921.7 303.9M969.3 303.9L969.3 331.4M969.3 331.4L945.5 345.1M969.3 331.4L993.1 345.1M945.5 345.1L945.5 372.6M993.1 290.1L1016.9 303.9M993.1 290.1L969.3 303.9M1016.9 303.9L1016.9 331.4M1016.9 331.4L993.1 345.1M1016.9 331.4L1040.7 345.1M993.1 345.1L993.1 372.6M1040.7 290.1L1064.5 303.9M1040.7 290.1L1016.9 303.9M1064.5 303.9L1064.5 331.4M1064.5 331.4L1040.7 345.1M1064.5 331.4L1088.3 345.1M1040.7 345.1L1040.7 372.6M1088.3 290.1L1112.1 303.9M1088.3 290.1L1064.5 303.9M1112.1 303.9L1112.1 331.4M1112.1 331.4L1088.3 345.1M1112.1 331.4L1135.9 345.1M1088.3 345.1L1088.3 372.6M612.4 372.6L636.2 386.4M636.2 386.4L636.2 413.9M636.2 413.9L612.4 427.6M636.2 413.9L660.0 427.6M612.4 427.6L612.4 455.1M660.0 372.6L683.8 386.4M660.0 372.6L636.2 386.4M683.8 386.4L683.8 413.9M683.8 413.9L660.0 427.6M683.8 413.9L707.6 427.6M660.0 427.6L660.0 455.1M707.6 372.6L731.4 386.4M707.6 372.6L683.8 386.4M731.4 386.4L731.4 413.9M731.4 413.9L707.6 427.6M731.4 413.9L755.2 427.6M707.6 427.6L707.6 455.1M755.2 372.6L779.0 386.4M755.2 372.6L731.4 386.4M779.0 386.4L779.0 413.9M779.0 413.9L755.2 427.6M779.0 413.9L802.8 427.6M755.2 427.6L755.2 455.1M802.8 372.6L826.6 386.4M802.8 372.6L779.0 386.4M826.6 386.4L826.6 413.9M826.6 413.9L802.8 427.6M826.6 413.9L850.4 427.6M802.8 427.6L802.8 455.1M850.4 372.6L874.1 386.4M850.4 372.6L826.6 386.4M874.1 386.4L874.1 413.9M874.1 413.9L850.4 427.6M874.1 413.9L897.9 427.6M850.4 427.6L850.4 455.1M897.9 372.6L921.7 386.4M897.9 372.6L874.1 386.4M921.7 386.4L921.7 413.9M921.7 413.9L897.9 427.6M921.7 413.9L945.5 427.6M897.9 427.6L897.9 455.1M945.5 372.6L969.3 386.4M945.5 372.6L921.7 386.4M969.3 386.4L969.3 413.9M969.3 413.9L945.5 427.6M969.3 413.9L993.1 427.6M945.5 427.6L945.5 455.1M993.1 372.6L1016.9 386.4M993.1 372.6L969.3 386.4M1016.9 386.4L1016.9 413.9M1016.9 413.9L993.1 427.6M1016.9 413.9L1040.7 427.6M993.1 427.6L993.1 455.1M1040.7 372.6L1064.5 386.4M1040.7 372.6L1016.9 386.4M1064.5 386.4L1064.5 413.9M1064.5 413.9L1040.7 427.6M1064.5 413.9L1088.3 427.6M1040.7 427.6L1040.7 455.1M1088.3 372.6L1112.1 386.4M1088.3 372.6L1064.5 386.4M1112.1 386.4L1112.1 413.9M1112.1 413.9L1088.3 427.6M1112.1 413.9L1135.9 427.6M1088.3 427.6L1088.3 455.1" stroke="#d666f5" stroke-width="3.2" fill="none"/>
<path d="M612.4 125.1L636.2 138.8M636.2 138.8L636.2 166.3M636.2 166.3L612.4 180.1M636.2 166.3L660.0 180.1M612.4 180.1L612.4 207.6M660.0 125.1L683.8 138.8M660.0 125.1L636.2 138.8M683.8 138.8L683.8 166.3M683.8 166.3L660.0 180.1M683.8 166.3L707.6 180.1M660.0 180.1L660.0 207.6M707.6 125.1L731.4 138.8M707.6 125.1L683.8 138.8M731.4 138.8L731.4 166.3M731.4 166.3L707.6 180.1M731.4 166.3L755.2 180.1M707.6 180.1L707.6 207.6M755.2 125.1L779.0 138.8M755.2 125.1L731.4 138.8M779.0 138.8L779.0 166.3M779.0 166.3L755.2 180.1M779.0 166.3L802.8 180.1M755.2 180.1L755.2 207.6M802.8 125.1L826.6 138.8M802.8 125.1L779.0 138.8M826.6 138.8L826.6 166.3M826.6 166.3L802.8 180.1M826.6 166.3L850.4 180.1M802.8 180.1L802.8 207.6M850.4 125.1L874.1 138.8M850.4 125.1L826.6 138.8M874.1 138.8L874.1 166.3M874.1 166.3L850.4 180.1M874.1 166.3L897.9 180.1M850.4 180.1L850.4 207.6M897.9 125.1L921.7 138.8M897.9 125.1L874.1 138.8M921.7 138.8L921.7 166.3M921.7 166.3L897.9 180.1M921.7 166.3L945.5 180.1M897.9 180.1L897.9 207.6M945.5 125.1L969.3 138.8M945.5 125.1L921.7 138.8M969.3 138.8L969.3 166.3M969.3 166.3L945.5 180.1M969.3 166.3L993.1 180.1M945.5 180.1L945.5 207.6M993.1 125.1L1016.9 138.8M993.1 125.1L969.3 138.8M1016.9 138.8L1016.9 166.3M1016.9 166.3L993.1 180.1M1016.9 166.3L1040.7 180.1M993.1 180.1L993.1 207.6M1040.7 125.1L1064.5 138.8M1040.7 125.1L1016.9 138.8M1064.5 138.8L1064.5 166.3M1064.5 166.3L1040.7 180.1M1064.5 166.3L1088.3 180.1M1040.7 180.1L1040.7 207.6M1088.3 125.1L1112.1 138.8M1088.3 125.1L1064.5 138.8M1112.1 138.8L1112.1 166.3M1112.1 166.3L1088.3 180.1M1112.1 166.3L1135.9 180.1M1088.3 180.1L1088.3 207.6M612.4 207.6L636.2 221.3M636.2 221.3L636.2 248.8M636.2 248.8L612.4 262.6M636.2 248.8L660.0 262.6M612.4 262.6L612.4 290.1M660.0 207.6L683.8 221.3M660.0 207.6L636.2 221.3M683.8 221.3L683.8 248.8M683.8 248.8L660.0 262.6M683.8 248.8L707.6 262.6M660.0 262.6L660.0 290.1M707.6 207.6L731.4 221.3M707.6 207.6L683.8 221.3M731.4 221.3L731.4 248.8M731.4 248.8L707.6 262.6M731.4 248.8L755.2 262.6M707.6 262.6L707.6 290.1M755.2 207.6L779.0 221.3M755.2 207.6L731.4 221.3M779.0 221.3L779.0 248.8M779.0 248.8L755.2 262.6M779.0 248.8L802.8 262.6M755.2 262.6L755.2 290.1M802.8 207.6L826.6 221.3M802.8 207.6L779.0 221.3M826.6 221.3L826.6 248.8M826.6 248.8L802.8 262.6M826.6 248.8L850.4 262.6M802.8 262.6L802.8 290.1M850.4 207.6L874.1 221.3M850.4 207.6L826.6 221.3M874.1 221.3L874.1 248.8M874.1 248.8L850.4 262.6M874.1 248.8L897.9 262.6M897.9 207.6L921.7 221.3M897.9 207.6L874.1 221.3M921.7 221.3L921.7 248.8M921.7 248.8L897.9 262.6M921.7 248.8L945.5 262.6M897.9 262.6L897.9 290.1M945.5 207.6L969.3 221.3M945.5 207.6L921.7 221.3M969.3 221.3L969.3 248.8M969.3 248.8L945.5 262.6M969.3 248.8L993.1 262.6M945.5 262.6L945.5 290.1M993.1 207.6L1016.9 221.3M993.1 207.6L969.3 221.3M1016.9 221.3L1016.9 248.8M1016.9 248.8L993.1 262.6M1016.9 248.8L1040.7 262.6M993.1 262.6L993.1 290.1M1040.7 207.6L1064.5 221.3M1040.7 207.6L1016.9 221.3M1064.5 221.3L1064.5 248.8M1064.5 248.8L1040.7 262.6M1064.5 248.8L1088.3 262.6M1040.7 262.6L1040.7 290.1M1088.3 207.6L1112.1 221.3M1088.3 207.6L1064.5 221.3M1112.1 221.3L1112.1 248.8M1112.1 248.8L1088.3 262.6M1112.1 248.8L1135.9 262.6M1088.3 262.6L1088.3 290.1M612.4 290.1L636.2 303.9M636.2 303.9L636.2 331.4M636.2 331.4L612.4 345.1M636.2 331.4L660.0 345.1M612.4 345.1L612.4 372.6M660.0 290.1L683.8 303.9M660.0 290.1L636.2 303.9M683.8 303.9L683.8 331.4M683.8 331.4L660.0 345.1M683.8 331.4L707.6 345.1M660.0 345.1L660.0 372.6M707.6 290.1L731.4 303.9M707.6 290.1L683.8 303.9M731.4 303.9L731.4 331.4M731.4 331.4L707.6 345.1M731.4 331.4L755.2 345.1M707.6 345.1L707.6 372.6M755.2 290.1L779.0 303.9M755.2 290.1L731.4 303.9M779.0 303.9L779.0 331.4M779.0 331.4L755.2 345.1M779.0 331.4L802.8 345.1M755.2 345.1L755.2 372.6M802.8 290.1L826.6 303.9M802.8 290.1L779.0 303.9M826.6 303.9L826.6 331.4M826.6 331.4L802.8 345.1M826.6 331.4L850.4 345.1M802.8 345.1L802.8 372.6M874.1 303.9L874.1 331.4M874.1 331.4L850.4 345.1M874.1 331.4L897.9 345.1M850.4 345.1L850.4 372.6M897.9 290.1L921.7 303.9M897.9 290.1L874.1 303.9M921.7 303.9L921.7 331.4M921.7 331.4L897.9 345.1M921.7 331.4L945.5 345.1M897.9 345.1L897.9 372.6M945.5 290.1L969.3 303.9M945.5 290.1L921.7 303.9M969.3 303.9L969.3 331.4M969.3 331.4L945.5 345.1M969.3 331.4L993.1 345.1M945.5 345.1L945.5 372.6M993.1 290.1L1016.9 303.9M993.1 290.1L969.3 303.9M1016.9 303.9L1016.9 331.4M1016.9 331.4L993.1 345.1M1016.9 331.4L1040.7 345.1M993.1 345.1L993.1 372.6M1040.7 290.1L1064.5 303.9M1040.7 290.1L1016.9 303.9M1064.5 303.9L1064.5 331.4M1064.5 331.4L1040.7 345.1M1064.5 331.4L1088.3 345.1M1040.7 345.1L1040.7 372.6M1088.3 290.1L1112.1 303.9M1088.3 290.1L1064.5 303.9M1112.1 303.9L1112.1 331.4M1112.1 331.4L1088.3 345.1M1112.1 331.4L1135.9 345.1M1088.3 345.1L1088.3 372.6M612.4 372.6L636.2 386.4M636.2 386.4L636.2 413.9M636.2 413.9L612.4 427.6M636.2 413.9L660.0 427.6M612.4 427.6L612.4 455.1M660.0 372.6L683.8 386.4M660.0 372.6L636.2 386.4M683.8 386.4L683.8 413.9M683.8 413.9L660.0 427.6M683.8 413.9L707.6 427.6M660.0 427.6L660.0 455.1M707.6 372.6L731.4 386.4M707.6 372.6L683.8 386.4M731.4 386.4L731.4 413.9M731.4 413.9L707.6 427.6M731.4 413.9L755.2 427.6M707.6 427.6L707.6 455.1M755.2 372.6L779.0 386.4M755.2 372.6L731.4 386.4M779.0 386.4L779.0 413.9M779.0 413.9L755.2 427.6M779.0 413.9L802.8 427.6M755.2 427.6L755.2 455.1M802.8 372.6L826.6 386.4M802.8 372.6L779.0 386.4M826.6 386.4L826.6 413.9M826.6 413.9L802.8 427.6M826.6 413.9L850.4 427.6M802.8 427.6L802.8 455.1M850.4 372.6L874.1 386.4M850.4 372.6L826.6 386.4M874.1 386.4L874.1 413.9M874.1 413.9L850.4 427.6M874.1 413.9L897.9 427.6M850.4 427.6L850.4 455.1M897.9 372.6L921.7 386.4M897.9 372.6L874.1 386.4M921.7 386.4L921.7 413.9M921.7 413.9L897.9 427.6M921.7 413.9L945.5 427.6M897.9 427.6L897.9 455.1M945.5 372.6L969.3 386.4M945.5 372.6L921.7 386.4M969.3 386.4L969.3 413.9M969.3 413.9L945.5 427.6M969.3 413.9L993.1 427.6M945.5 427.6L945.5 455.1M993.1 372.6L1016.9 386.4M993.1 372.6L969.3 386.4M1016.9 386.4L1016.9 413.9M1016.9 413.9L993.1 427.6M1016.9 413.9L1040.7 427.6M993.1 427.6L993.1 455.1M1040.7 372.6L1064.5 386.4M1040.7 372.6L1016.9 386.4M1064.5 386.4L1064.5 413.9M1064.5 413.9L1040.7 427.6M1064.5 413.9L1088.3 427.6M1040.7 427.6L1040.7 455.1M1088.3 372.6L1112.1 386.4M1088.3 372.6L1064.5 386.4M1112.1 386.4L1112.1 413.9M1112.1 413.9L1088.3 427.6M1112.1 413.9L1135.9 427.6M1088.3 427.6L1088.3 455.1" stroke="#e27cfb" stroke-width="1.2" fill="none"/>
<circle cx="612.4" cy="125.1" r="7.4" fill="url(#atom)"/>
<circle cx="636.2" cy="138.8" r="7.4" fill="url(#atom)"/>
<circle cx="636.2" cy="166.3" r="7.4" fill="url(#atom)"/>
<circle cx="612.4" cy="180.1" r="7.4" fill="url(#atom)"/>
<circle cx="660.0" cy="125.1" r="7.4" fill="url(#atom)"/>
<circle cx="683.8" cy="138.8" r="7.4" fill="url(#atom)"/>
<circle cx="683.8" cy="166.3" r="7.4" fill="url(#atom)"/>
<circle cx="660.0" cy="180.1" r="7.4" fill="url(#atom)"/>
<circle cx="707.6" cy="125.1" r="7.4" fill="url(#atom)"/>
<circle cx="731.4" cy="138.8" r="7.4" fill="url(#atom)"/>
<circle cx="731.4" cy="166.3" r="7.4" fill="url(#atom)"/>
<circle cx="707.6" cy="180.1" r="7.4" fill="url(#atom)"/>
<circle cx="755.2" cy="125.1" r="7.4" fill="url(#atom)"/>
<circle cx="779.0" cy="138.8" r="7.4" fill="url(#atom)"/>
<circle cx="779.0" cy="166.3" r="7.4" fill="url(#atom)"/>
<circle cx="755.2" cy="180.1" r="7.4" fill="url(#atom)"/>
<circle cx="802.8" cy="125.1" r="7.4" fill="url(#atom)"/>
<circle cx="826.6" cy="138.8" r="7.4" fill="url(#atom)"/>
<circle cx="826.6" cy="166.3" r="7.4" fill="url(#atom)"/>
<circle cx="802.8" cy="180.1" r="7.4" fill="url(#atom)"/>
<circle cx="850.4" cy="125.1" r="7.4" fill="url(#atom)"/>
<circle cx="874.1" cy="138.8" r="7.4" fill="url(#atom)"/>
<circle cx="874.1" cy="166.3" r="7.4" fill="url(#atom)"/>
<circle cx="850.4" cy="180.1" r="7.4" fill="url(#atom)"/>
<circle cx="897.9" cy="125.1" r="7.4" fill="url(#atom)"/>
<circle cx="921.7" cy="138.8" r="7.4" fill="url(#atom)"/>
<circle cx="921.7" cy="166.3" r="7.4" fill="url(#atom)"/>
<circle cx="897.9" cy="180.1" r="7.4" fill="url(#atom)"/>
<circle cx="945.5" cy="125.1" r="7.4" fill="url(#atom)"/>
<circle cx="969.3" cy="138.8" r="7.4" fill="url(#atom)"/>
<circle cx="969.3" cy="166.3" r="7.4" fill="url(#atom)"/>
<circle cx="945.5" cy="180.1" r="7.4" fill="url(#atom)"/>
<circle cx="993.1" cy="125.1" r="7.4" fill="url(#atom)"/>
<circle cx="1016.9" cy="138.8" r="7.4" fill="url(#atom)"/>
<circle cx="1016.9" cy="166.3" r="7.4" fill="url(#atom)"/>
<circle cx="993.1" cy="180.1" r="7.4" fill="url(#atom)"/>
<circle cx="1040.7" cy="125.1" r="7.4" fill="url(#atom)"/>
<circle cx="1064.5" cy="138.8" r="7.4" fill="url(#atom)"/>
<circle cx="1064.5" cy="166.3" r="7.4" fill="url(#atom)"/>
<circle cx="1040.7" cy="180.1" r="7.4" fill="url(#atom)"/>
<circle cx="1088.3" cy="125.1" r="7.4" fill="url(#atom)"/>
<circle cx="1112.1" cy="138.8" r="7.4" fill="url(#atom)"/>
<circle cx="1112.1" cy="166.3" r="7.4" fill="url(#atom)"/>
<circle cx="1088.3" cy="180.1" r="7.4" fill="url(#atom)"/>
<circle cx="612.4" cy="207.6" r="7.4" fill="url(#atom)"/>
<circle cx="636.2" cy="221.3" r="7.4" fill="url(#atom)"/>
<circle cx="636.2" cy="248.8" r="7.4" fill="url(#atom)"/>
<circle cx="612.4" cy="262.6" r="7.4" fill="url(#atom)"/>
<circle cx="660.0" cy="207.6" r="7.4" fill="url(#atom)"/>
<circle cx="683.8" cy="221.3" r="7.4" fill="url(#atom)"/>
<circle cx="683.8" cy="248.8" r="7.4" fill="url(#atom)"/>
<circle cx="660.0" cy="262.6" r="7.4" fill="url(#atom)"/>
<circle cx="707.6" cy="207.6" r="7.4" fill="url(#atom)"/>
<circle cx="731.4" cy="221.3" r="7.4" fill="url(#atom)"/>
<circle cx="731.4" cy="248.8" r="7.4" fill="url(#atom)"/>
<circle cx="707.6" cy="262.6" r="7.4" fill="url(#atom)"/>
<circle cx="755.2" cy="207.6" r="7.4" fill="url(#atom)"/>
<circle cx="779.0" cy="221.3" r="7.4" fill="url(#atom)"/>
<circle cx="779.0" cy="248.8" r="7.4" fill="url(#atom)"/>
<circle cx="755.2" cy="262.6" r="7.4" fill="url(#atom)"/>
<circle cx="802.8" cy="207.6" r="7.4" fill="url(#atom)"/>
<circle cx="826.6" cy="221.3" r="7.4" fill="url(#atom)"/>
<circle cx="826.6" cy="248.8" r="7.4" fill="url(#atom)"/>
<circle cx="802.8" cy="262.6" r="7.4" fill="url(#atom)"/>
<circle cx="850.4" cy="207.6" r="7.4" fill="url(#atom)"/>
<circle cx="874.1" cy="221.3" r="7.4" fill="url(#atom)"/>
<circle cx="874.1" cy="248.8" r="7.4" fill="url(#atom)"/>
<circle cx="850.4" cy="262.6" r="7.4" fill="url(#atom)"/>
<circle cx="897.9" cy="207.6" r="7.4" fill="url(#atom)"/>
<circle cx="921.7" cy="221.3" r="7.4" fill="url(#atom)"/>
<circle cx="921.7" cy="248.8" r="7.4" fill="url(#atom)"/>
<circle cx="897.9" cy="262.6" r="7.4" fill="url(#atom)"/>
<circle cx="945.5" cy="207.6" r="7.4" fill="url(#atom)"/>
<circle cx="969.3" cy="221.3" r="7.4" fill="url(#atom)"/>
<circle cx="969.3" cy="248.8" r="7.4" fill="url(#atom)"/>
<circle cx="945.5" cy="262.6" r="7.4" fill="url(#atom)"/>
<circle cx="993.1" cy="207.6" r="7.4" fill="url(#atom)"/>
<circle cx="1016.9" cy="221.3" r="7.4" fill="url(#atom)"/>
<circle cx="1016.9" cy="248.8" r="7.4" fill="url(#atom)"/>
<circle cx="993.1" cy="262.6" r="7.4" fill="url(#atom)"/>
<circle cx="1040.7" cy="207.6" r="7.4" fill="url(#atom)"/>
<circle cx="1064.5" cy="221.3" r="7.4" fill="url(#atom)"/>
<circle cx="1064.5" cy="248.8" r="7.4" fill="url(#atom)"/>
<circle cx="1040.7" cy="262.6" r="7.4" fill="url(#atom)"/>
<circle cx="1088.3" cy="207.6" r="7.4" fill="url(#atom)"/>
<circle cx="1112.1" cy="221.3" r="7.4" fill="url(#atom)"/>
<circle cx="1112.1" cy="248.8" r="7.4" fill="url(#atom)"/>
<circle cx="1088.3" cy="262.6" r="7.4" fill="url(#atom)"/>
<circle cx="612.4" cy="290.1" r="7.4" fill="url(#atom)"/>
<circle cx="636.2" cy="303.9" r="7.4" fill="url(#atom)"/>
<circle cx="636.2" cy="331.4" r="7.4" fill="url(#atom)"/>
<circle cx="612.4" cy="345.1" r="7.4" fill="url(#atom)"/>
<circle cx="660.0" cy="290.1" r="7.4" fill="url(#atom)"/>
<circle cx="683.8" cy="303.9" r="7.4" fill="url(#atom)"/>
<circle cx="683.8" cy="331.4" r="7.4" fill="url(#atom)"/>
<circle cx="660.0" cy="345.1" r="7.4" fill="url(#atom)"/>
<circle cx="707.6" cy="290.1" r="7.4" fill="url(#atom)"/>
<circle cx="731.4" cy="303.9" r="7.4" fill="url(#atom)"/>
<circle cx="731.4" cy="331.4" r="7.4" fill="url(#atom)"/>
<circle cx="707.6" cy="345.1" r="7.4" fill="url(#atom)"/>
<circle cx="755.2" cy="290.1" r="7.4" fill="url(#atom)"/>
<circle cx="779.0" cy="303.9" r="7.4" fill="url(#atom)"/>
<circle cx="779.0" cy="331.4" r="7.4" fill="url(#atom)"/>
<circle cx="755.2" cy="345.1" r="7.4" fill="url(#atom)"/>
<circle cx="802.8" cy="290.1" r="7.4" fill="url(#atom)"/>
<circle cx="826.6" cy="303.9" r="7.4" fill="url(#atom)"/>
<circle cx="826.6" cy="331.4" r="7.4" fill="url(#atom)"/>
<circle cx="802.8" cy="345.1" r="7.4" fill="url(#atom)"/>
<circle cx="874.1" cy="303.9" r="7.4" fill="url(#atom)"/>
<circle cx="874.1" cy="331.4" r="7.4" fill="url(#atom)"/>
<circle cx="850.4" cy="345.1" r="7.4" fill="url(#atom)"/>
<circle cx="897.9" cy="290.1" r="7.4" fill="url(#atom)"/>
<circle cx="921.7" cy="303.9" r="7.4" fill="url(#atom)"/>
<circle cx="921.7" cy="331.4" r="7.4" fill="url(#atom)"/>
<circle cx="897.9" cy="345.1" r="7.4" fill="url(#atom)"/>
<circle cx="945.5" cy="290.1" r="7.4" fill="url(#atom)"/>
<circle cx="969.3" cy="303.9" r="7.4" fill="url(#atom)"/>
<circle cx="969.3" cy="331.4" r="7.4" fill="url(#atom)"/>
<circle cx="945.5" cy="345.1" r="7.4" fill="url(#atom)"/>
<circle cx="993.1" cy="290.1" r="7.4" fill="url(#atom)"/>
<circle cx="1016.9" cy="303.9" r="7.4" fill="url(#atom)"/>
<circle cx="1016.9" cy="331.4" r="7.4" fill="url(#atom)"/>
<circle cx="993.1" cy="345.1" r="7.4" fill="url(#atom)"/>
<circle cx="1040.7" cy="290.1" r="7.4" fill="url(#atom)"/>
<circle cx="1064.5" cy="303.9" r="7.4" fill="url(#atom)"/>
<circle cx="1064.5" cy="331.4" r="7.4" fill="url(#atom)"/>
<circle cx="1040.7" cy="345.1" r="7.4" fill="url(#atom)"/>
<circle cx="1088.3" cy="290.1" r="7.4" fill="url(#atom)"/>
<circle cx="1112.1" cy="303.9" r="7.4" fill="url(#atom)"/>
<circle cx="1112.1" cy="331.4" r="7.4" fill="url(#atom)"/>
<circle cx="1088.3" cy="345.1" r="7.4" fill="url(#atom)"/>
<circle cx="612.4" cy="372.6" r="7.4" fill="url(#atom)"/>
<circle cx="636.2" cy="386.4" r="7.4" fill="url(#atom)"/>
<circle cx="636.2" cy="413.9" r="7.4" fill="url(#atom)"/>
<circle cx="612.4" cy="427.6" r="7.4" fill="url(#atom)"/>
<circle cx="660.0" cy="372.6" r="7.4" fill="url(#atom)"/>
<circle cx="683.8" cy="386.4" r="7.4" fill="url(#atom)"/>
<circle cx="683.8" cy="413.9" r="7.4" fill="url(#atom)"/>
<circle cx="660.0" cy="427.6" r="7.4" fill="url(#atom)"/>
<circle cx="707.6" cy="372.6" r="7.4" fill="url(#atom)"/>
<circle cx="731.4" cy="386.4" r="7.4" fill="url(#atom)"/>
<circle cx="731.4" cy="413.9" r="7.4" fill="url(#atom)"/>
<circle cx="707.6" cy="427.6" r="7.4" fill="url(#atom)"/>
<circle cx="755.2" cy="372.6" r="7.4" fill="url(#atom)"/>
<circle cx="779.0" cy="386.4" r="7.4" fill="url(#atom)"/>
<circle cx="779.0" cy="413.9" r="7.4" fill="url(#atom)"/>
<circle cx="755.2" cy="427.6" r="7.4" fill="url(#atom)"/>
<circle cx="802.8" cy="372.6" r="7.4" fill="url(#atom)"/>
<circle cx="826.6" cy="386.4" r="7.4" fill="url(#atom)"/>
<circle cx="826.6" cy="413.9" r="7.4" fill="url(#atom)"/>
<circle cx="802.8" cy="427.6" r="7.4" fill="url(#atom)"/>
<circle cx="850.4" cy="372.6" r="7.4" fill="url(#atom)"/>
<circle cx="874.1" cy="386.4" r="7.4" fill="url(#atom)"/>
<circle cx="874.1" cy="413.9" r="7.4" fill="url(#atom)"/>
<circle cx="850.4" cy="427.6" r="7.4" fill="url(#atom)"/>
<circle cx="897.9" cy="372.6" r="7.4" fill="url(#atom)"/>
<circle cx="921.7" cy="386.4" r="7.4" fill="url(#atom)"/>
<circle cx="921.7" cy="413.9" r="7.4" fill="url(#atom)"/>
<circle cx="897.9" cy="427.6" r="7.4" fill="url(#atom)"/>
<circle cx="945.5" cy="372.6" r="7.4" fill="url(#atom)"/>
<circle cx="969.3" cy="386.4" r="7.4" fill="url(#atom)"/>
<circle cx="969.3" cy="413.9" r="7.4" fill="url(#atom)"/>
<circle cx="945.5" cy="427.6" r="7.4" fill="url(#atom)"/>
<circle cx="993.1" cy="372.6" r="7.4" fill="url(#atom)"/>
<circle cx="1016.9" cy="386.4" r="7.4" fill="url(#atom)"/>
<circle cx="1016.9" cy="413.9" r="7.4" fill="url(#atom)"/>
<circle cx="993.1" cy="427.6" r="7.4" fill="url(#atom)"/>
<circle cx="1040.7" cy="372.6" r="7.4" fill="url(#atom)"/>
<circle cx="1064.5" cy="386.4" r="7.4" fill="url(#atom)"/>
<circle cx="1064.5" cy="413.9" r="7.4" fill="url(#atom)"/>
<circle cx="1040.7" cy="427.6" r="7.4" fill="url(#atom)"/>
<circle cx="1088.3" cy="372.6" r="7.4" fill="url(#atom)"/>
<circle cx="1112.1" cy="386.4" r="7.4" fill="url(#atom)"/>
<circle cx="1112.1" cy="413.9" r="7.4" fill="url(#atom)"/>
<circle cx="1088.3" cy="427.6" r="7.4" fill="url(#atom)"/>
<circle cx="850.2" cy="289.4" r="57" fill="url(#glowC)"/>
</g>
<g clip-path="url(#lcD)">
<path d="M612.4 617.7L636.2 631.5M636.2 631.5L636.2 659.0M636.2 659.0L612.4 672.7M636.2 659.0L660.1 672.7M612.4 672.7L612.4 700.2M660.1 617.7L683.9 631.5M660.1 617.7L636.2 631.5M683.9 631.5L683.9 659.0M683.9 659.0L660.1 672.7M683.9 659.0L707.8 672.7M660.1 672.7L660.1 700.2M707.8 617.7L731.6 631.5M707.8 617.7L683.9 631.5M731.6 631.5L731.6 659.0M731.6 659.0L707.8 672.7M731.6 659.0L755.5 672.7M707.8 672.7L707.8 700.2M755.5 617.7L779.3 631.5M755.5 617.7L731.6 631.5M779.3 631.5L779.3 659.0M779.3 659.0L755.5 672.7M779.3 659.0L803.2 672.7M755.5 672.7L755.5 700.2M803.2 617.7L827.0 631.5M803.2 617.7L779.3 631.5M827.0 631.5L827.0 659.0M827.0 659.0L803.2 672.7M827.0 659.0L850.8 672.7M803.2 672.7L803.2 700.2M850.8 617.7L874.7 631.5M850.8 617.7L827.0 631.5M874.7 631.5L874.7 659.0M874.7 659.0L850.8 672.7M874.7 659.0L898.5 672.7M850.8 672.7L850.8 700.2M898.5 617.7L922.4 631.5M898.5 617.7L874.7 631.5M922.4 631.5L922.4 659.0M922.4 659.0L898.5 672.7M922.4 659.0L946.2 672.7M898.5 672.7L898.5 700.2M946.2 617.7L970.1 631.5M946.2 617.7L922.4 631.5M970.1 631.5L970.1 659.0M970.1 659.0L946.2 672.7M970.1 659.0L993.9 672.7M946.2 672.7L946.2 700.2M993.9 617.7L1017.8 631.5M993.9 617.7L970.1 631.5M1017.8 631.5L1017.8 659.0M1017.8 659.0L993.9 672.7M1017.8 659.0L1041.6 672.7M993.9 672.7L993.9 700.2M1041.6 617.7L1065.5 631.5M1041.6 617.7L1017.8 631.5M1065.5 631.5L1065.5 659.0M1065.5 659.0L1041.6 672.7M1065.5 659.0L1089.3 672.7M1041.6 672.7L1041.6 700.2M1089.3 617.7L1113.1 631.5M1089.3 617.7L1065.5 631.5M1113.1 631.5L1113.1 659.0M1113.1 659.0L1089.3 672.7M1113.1 659.0L1137.0 672.7M1089.3 672.7L1089.3 700.2M612.4 700.2L636.2 714.0M636.2 714.0L636.2 741.5M636.2 741.5L612.4 755.2M636.2 741.5L660.1 755.2M612.4 755.2L612.4 782.7M660.1 700.2L683.9 714.0M660.1 700.2L636.2 714.0M683.9 714.0L683.9 741.5M683.9 741.5L660.1 755.2M683.9 741.5L707.8 755.2M660.1 755.2L660.1 782.7M707.8 700.2L731.6 714.0M707.8 700.2L683.9 714.0M731.6 714.0L731.6 741.5M731.6 741.5L707.8 755.2M731.6 741.5L755.5 755.2M707.8 755.2L707.8 782.7M755.5 700.2L779.3 714.0M755.5 700.2L731.6 714.0M779.3 714.0L779.3 741.5M779.3 741.5L755.5 755.2M779.3 741.5L803.2 755.2M755.5 755.2L755.5 782.7M803.2 700.2L827.0 714.0M803.2 700.2L779.3 714.0M827.0 714.0L827.0 741.5M827.0 741.5L803.2 755.2M827.0 741.5L850.8 755.2M803.2 755.2L803.2 782.7M850.8 700.2L874.7 714.0M850.8 700.2L827.0 714.0M874.7 714.0L874.7 741.5M874.7 741.5L850.8 755.2M874.7 741.5L898.5 755.2M898.5 700.2L922.4 714.0M898.5 700.2L874.7 714.0M922.4 714.0L922.4 741.5M922.4 741.5L898.5 755.2M922.4 741.5L946.2 755.2M898.5 755.2L898.5 782.7M946.2 700.2L970.1 714.0M946.2 700.2L922.4 714.0M970.1 714.0L970.1 741.5M970.1 741.5L946.2 755.2M970.1 741.5L993.9 755.2M946.2 755.2L946.2 782.7M993.9 700.2L1017.8 714.0M993.9 700.2L970.1 714.0M1017.8 714.0L1017.8 741.5M1017.8 741.5L993.9 755.2M1017.8 741.5L1041.6 755.2M993.9 755.2L993.9 782.7M1041.6 700.2L1065.5 714.0M1041.6 700.2L1017.8 714.0M1065.5 714.0L1065.5 741.5M1065.5 741.5L1041.6 755.2M1065.5 741.5L1089.3 755.2M1041.6 755.2L1041.6 782.7M1089.3 700.2L1113.1 714.0M1089.3 700.2L1065.5 714.0M1113.1 714.0L1113.1 741.5M1113.1 741.5L1089.3 755.2M1113.1 741.5L1137.0 755.2M1089.3 755.2L1089.3 782.7M612.4 782.7L636.2 796.5M636.2 796.5L636.2 824.0M636.2 824.0L612.4 837.7M636.2 824.0L660.1 837.7M612.4 837.7L612.4 865.2M660.1 782.7L683.9 796.5M660.1 782.7L636.2 796.5M683.9 796.5L683.9 824.0M683.9 824.0L660.1 837.7M683.9 824.0L707.8 837.7M660.1 837.7L660.1 865.2M707.8 782.7L731.6 796.5M707.8 782.7L683.9 796.5M731.6 796.5L731.6 824.0M731.6 824.0L707.8 837.7M731.6 824.0L755.5 837.7M707.8 837.7L707.8 865.2M755.5 782.7L779.3 796.5M755.5 782.7L731.6 796.5M779.3 796.5L779.3 824.0M779.3 824.0L755.5 837.7M779.3 824.0L803.2 837.7M755.5 837.7L755.5 865.2M803.2 782.7L827.0 796.5M803.2 782.7L779.3 796.5M827.0 796.5L827.0 824.0M827.0 824.0L803.2 837.7M827.0 824.0L850.8 837.7M803.2 837.7L803.2 865.2M874.7 796.5L874.7 824.0M874.7 824.0L850.8 837.7M874.7 824.0L898.5 837.7M850.8 837.7L850.8 865.2M898.5 782.7L922.4 796.5M898.5 782.7L874.7 796.5M922.4 796.5L922.4 824.0M922.4 824.0L898.5 837.7M922.4 824.0L946.2 837.7M898.5 837.7L898.5 865.2M946.2 782.7L970.1 796.5M946.2 782.7L922.4 796.5M970.1 796.5L970.1 824.0M970.1 824.0L946.2 837.7M970.1 824.0L993.9 837.7M946.2 837.7L946.2 865.2M993.9 782.7L1017.8 796.5M993.9 782.7L970.1 796.5M1017.8 796.5L1017.8 824.0M1017.8 824.0L993.9 837.7M1017.8 824.0L1041.6 837.7M993.9 837.7L993.9 865.2M1041.6 782.7L1065.5 796.5M1041.6 782.7L1017.8 796.5M1065.5 796.5L1065.5 824.0M1065.5 824.0L1041.6 837.7M1065.5 824.0L1089.3 837.7M1041.6 837.7L1041.6 865.2M1089.3 782.7L1113.1 796.5M1089.3 782.7L1065.5 796.5M1113.1 796.5L1113.1 824.0M1113.1 824.0L1089.3 837.7M1113.1 824.0L1137.0 837.7M1089.3 837.7L1089.3 865.2M612.4 865.2L636.2 879.0M636.2 879.0L636.2 906.5M636.2 906.5L612.4 920.2M636.2 906.5L660.1 920.2M612.4 920.2L612.4 947.7M660.1 865.2L683.9 879.0M660.1 865.2L636.2 879.0M683.9 879.0L683.9 906.5M683.9 906.5L660.1 920.2M683.9 906.5L707.8 920.2M660.1 920.2L660.1 947.7M707.8 865.2L731.6 879.0M707.8 865.2L683.9 879.0M731.6 879.0L731.6 906.5M731.6 906.5L707.8 920.2M731.6 906.5L755.5 920.2M707.8 920.2L707.8 947.7M755.5 865.2L779.3 879.0M755.5 865.2L731.6 879.0M779.3 879.0L779.3 906.5M779.3 906.5L755.5 920.2M779.3 906.5L803.2 920.2M755.5 920.2L755.5 947.7M803.2 865.2L827.0 879.0M803.2 865.2L779.3 879.0M827.0 879.0L827.0 906.5M827.0 906.5L803.2 920.2M827.0 906.5L850.8 920.2M803.2 920.2L803.2 947.7M850.8 865.2L874.7 879.0M850.8 865.2L827.0 879.0M874.7 879.0L874.7 906.5M874.7 906.5L850.8 920.2M874.7 906.5L898.5 920.2M850.8 920.2L850.8 947.7M898.5 865.2L922.4 879.0M898.5 865.2L874.7 879.0M922.4 879.0L922.4 906.5M922.4 906.5L898.5 920.2M922.4 906.5L946.2 920.2M898.5 920.2L898.5 947.7M946.2 865.2L970.1 879.0M946.2 865.2L922.4 879.0M970.1 879.0L970.1 906.5M970.1 906.5L946.2 920.2M970.1 906.5L993.9 920.2M946.2 920.2L946.2 947.7M993.9 865.2L1017.8 879.0M993.9 865.2L970.1 879.0M1017.8 879.0L1017.8 906.5M1017.8 906.5L993.9 920.2M1017.8 906.5L1041.6 920.2M993.9 920.2L993.9 947.7M1041.6 865.2L1065.5 879.0M1041.6 865.2L1017.8 879.0M1065.5 879.0L1065.5 906.5M1065.5 906.5L1041.6 920.2M1065.5 906.5L1089.3 920.2M1041.6 920.2L1041.6 947.7M1089.3 865.2L1113.1 879.0M1089.3 865.2L1065.5 879.0M1113.1 879.0L1113.1 906.5M1113.1 906.5L1089.3 920.2M1113.1 906.5L1137.0 920.2M1089.3 920.2L1089.3 947.7" stroke="#d666f5" stroke-width="3.2" fill="none"/>
<path d="M612.4 617.7L636.2 631.5M636.2 631.5L636.2 659.0M636.2 659.0L612.4 672.7M636.2 659.0L660.1 672.7M612.4 672.7L612.4 700.2M660.1 617.7L683.9 631.5M660.1 617.7L636.2 631.5M683.9 631.5L683.9 659.0M683.9 659.0L660.1 672.7M683.9 659.0L707.8 672.7M660.1 672.7L660.1 700.2M707.8 617.7L731.6 631.5M707.8 617.7L683.9 631.5M731.6 631.5L731.6 659.0M731.6 659.0L707.8 672.7M731.6 659.0L755.5 672.7M707.8 672.7L707.8 700.2M755.5 617.7L779.3 631.5M755.5 617.7L731.6 631.5M779.3 631.5L779.3 659.0M779.3 659.0L755.5 672.7M779.3 659.0L803.2 672.7M755.5 672.7L755.5 700.2M803.2 617.7L827.0 631.5M803.2 617.7L779.3 631.5M827.0 631.5L827.0 659.0M827.0 659.0L803.2 672.7M827.0 659.0L850.8 672.7M803.2 672.7L803.2 700.2M850.8 617.7L874.7 631.5M850.8 617.7L827.0 631.5M874.7 631.5L874.7 659.0M874.7 659.0L850.8 672.7M874.7 659.0L898.5 672.7M850.8 672.7L850.8 700.2M898.5 617.7L922.4 631.5M898.5 617.7L874.7 631.5M922.4 631.5L922.4 659.0M922.4 659.0L898.5 672.7M922.4 659.0L946.2 672.7M898.5 672.7L898.5 700.2M946.2 617.7L970.1 631.5M946.2 617.7L922.4 631.5M970.1 631.5L970.1 659.0M970.1 659.0L946.2 672.7M970.1 659.0L993.9 672.7M946.2 672.7L946.2 700.2M993.9 617.7L1017.8 631.5M993.9 617.7L970.1 631.5M1017.8 631.5L1017.8 659.0M1017.8 659.0L993.9 672.7M1017.8 659.0L1041.6 672.7M993.9 672.7L993.9 700.2M1041.6 617.7L1065.5 631.5M1041.6 617.7L1017.8 631.5M1065.5 631.5L1065.5 659.0M1065.5 659.0L1041.6 672.7M1065.5 659.0L1089.3 672.7M1041.6 672.7L1041.6 700.2M1089.3 617.7L1113.1 631.5M1089.3 617.7L1065.5 631.5M1113.1 631.5L1113.1 659.0M1113.1 659.0L1089.3 672.7M1113.1 659.0L1137.0 672.7M1089.3 672.7L1089.3 700.2M612.4 700.2L636.2 714.0M636.2 714.0L636.2 741.5M636.2 741.5L612.4 755.2M636.2 741.5L660.1 755.2M612.4 755.2L612.4 782.7M660.1 700.2L683.9 714.0M660.1 700.2L636.2 714.0M683.9 714.0L683.9 741.5M683.9 741.5L660.1 755.2M683.9 741.5L707.8 755.2M660.1 755.2L660.1 782.7M707.8 700.2L731.6 714.0M707.8 700.2L683.9 714.0M731.6 714.0L731.6 741.5M731.6 741.5L707.8 755.2M731.6 741.5L755.5 755.2M707.8 755.2L707.8 782.7M755.5 700.2L779.3 714.0M755.5 700.2L731.6 714.0M779.3 714.0L779.3 741.5M779.3 741.5L755.5 755.2M779.3 741.5L803.2 755.2M755.5 755.2L755.5 782.7M803.2 700.2L827.0 714.0M803.2 700.2L779.3 714.0M827.0 714.0L827.0 741.5M827.0 741.5L803.2 755.2M827.0 741.5L850.8 755.2M803.2 755.2L803.2 782.7M850.8 700.2L874.7 714.0M850.8 700.2L827.0 714.0M874.7 714.0L874.7 741.5M874.7 741.5L850.8 755.2M874.7 741.5L898.5 755.2M898.5 700.2L922.4 714.0M898.5 700.2L874.7 714.0M922.4 714.0L922.4 741.5M922.4 741.5L898.5 755.2M922.4 741.5L946.2 755.2M898.5 755.2L898.5 782.7M946.2 700.2L970.1 714.0M946.2 700.2L922.4 714.0M970.1 714.0L970.1 741.5M970.1 741.5L946.2 755.2M970.1 741.5L993.9 755.2M946.2 755.2L946.2 782.7M993.9 700.2L1017.8 714.0M993.9 700.2L970.1 714.0M1017.8 714.0L1017.8 741.5M1017.8 741.5L993.9 755.2M1017.8 741.5L1041.6 755.2M993.9 755.2L993.9 782.7M1041.6 700.2L1065.5 714.0M1041.6 700.2L1017.8 714.0M1065.5 714.0L1065.5 741.5M1065.5 741.5L1041.6 755.2M1065.5 741.5L1089.3 755.2M1041.6 755.2L1041.6 782.7M1089.3 700.2L1113.1 714.0M1089.3 700.2L1065.5 714.0M1113.1 714.0L1113.1 741.5M1113.1 741.5L1089.3 755.2M1113.1 741.5L1137.0 755.2M1089.3 755.2L1089.3 782.7M612.4 782.7L636.2 796.5M636.2 796.5L636.2 824.0M636.2 824.0L612.4 837.7M636.2 824.0L660.1 837.7M612.4 837.7L612.4 865.2M660.1 782.7L683.9 796.5M660.1 782.7L636.2 796.5M683.9 796.5L683.9 824.0M683.9 824.0L660.1 837.7M683.9 824.0L707.8 837.7M660.1 837.7L660.1 865.2M707.8 782.7L731.6 796.5M707.8 782.7L683.9 796.5M731.6 796.5L731.6 824.0M731.6 824.0L707.8 837.7M731.6 824.0L755.5 837.7M707.8 837.7L707.8 865.2M755.5 782.7L779.3 796.5M755.5 782.7L731.6 796.5M779.3 796.5L779.3 824.0M779.3 824.0L755.5 837.7M779.3 824.0L803.2 837.7M755.5 837.7L755.5 865.2M803.2 782.7L827.0 796.5M803.2 782.7L779.3 796.5M827.0 796.5L827.0 824.0M827.0 824.0L803.2 837.7M827.0 824.0L850.8 837.7M803.2 837.7L803.2 865.2M874.7 796.5L874.7 824.0M874.7 824.0L850.8 837.7M874.7 824.0L898.5 837.7M850.8 837.7L850.8 865.2M898.5 782.7L922.4 796.5M898.5 782.7L874.7 796.5M922.4 796.5L922.4 824.0M922.4 824.0L898.5 837.7M922.4 824.0L946.2 837.7M898.5 837.7L898.5 865.2M946.2 782.7L970.1 796.5M946.2 782.7L922.4 796.5M970.1 796.5L970.1 824.0M970.1 824.0L946.2 837.7M970.1 824.0L993.9 837.7M946.2 837.7L946.2 865.2M993.9 782.7L1017.8 796.5M993.9 782.7L970.1 796.5M1017.8 796.5L1017.8 824.0M1017.8 824.0L993.9 837.7M1017.8 824.0L1041.6 837.7M993.9 837.7L993.9 865.2M1041.6 782.7L1065.5 796.5M1041.6 782.7L1017.8 796.5M1065.5 796.5L1065.5 824.0M1065.5 824.0L1041.6 837.7M1065.5 824.0L1089.3 837.7M1041.6 837.7L1041.6 865.2M1089.3 782.7L1113.1 796.5M1089.3 782.7L1065.5 796.5M1113.1 796.5L1113.1 824.0M1113.1 824.0L1089.3 837.7M1113.1 824.0L1137.0 837.7M1089.3 837.7L1089.3 865.2M612.4 865.2L636.2 879.0M636.2 879.0L636.2 906.5M636.2 906.5L612.4 920.2M636.2 906.5L660.1 920.2M612.4 920.2L612.4 947.7M660.1 865.2L683.9 879.0M660.1 865.2L636.2 879.0M683.9 879.0L683.9 906.5M683.9 906.5L660.1 920.2M683.9 906.5L707.8 920.2M660.1 920.2L660.1 947.7M707.8 865.2L731.6 879.0M707.8 865.2L683.9 879.0M731.6 879.0L731.6 906.5M731.6 906.5L707.8 920.2M731.6 906.5L755.5 920.2M707.8 920.2L707.8 947.7M755.5 865.2L779.3 879.0M755.5 865.2L731.6 879.0M779.3 879.0L779.3 906.5M779.3 906.5L755.5 920.2M779.3 906.5L803.2 920.2M755.5 920.2L755.5 947.7M803.2 865.2L827.0 879.0M803.2 865.2L779.3 879.0M827.0 879.0L827.0 906.5M827.0 906.5L803.2 920.2M827.0 906.5L850.8 920.2M803.2 920.2L803.2 947.7M850.8 865.2L874.7 879.0M850.8 865.2L827.0 879.0M874.7 879.0L874.7 906.5M874.7 906.5L850.8 920.2M874.7 906.5L898.5 920.2M850.8 920.2L850.8 947.7M898.5 865.2L922.4 879.0M898.5 865.2L874.7 879.0M922.4 879.0L922.4 906.5M922.4 906.5L898.5 920.2M922.4 906.5L946.2 920.2M898.5 920.2L898.5 947.7M946.2 865.2L970.1 879.0M946.2 865.2L922.4 879.0M970.1 879.0L970.1 906.5M970.1 906.5L946.2 920.2M970.1 906.5L993.9 920.2M946.2 920.2L946.2 947.7M993.9 865.2L1017.8 879.0M993.9 865.2L970.1 879.0M1017.8 879.0L1017.8 906.5M1017.8 906.5L993.9 920.2M1017.8 906.5L1041.6 920.2M993.9 920.2L993.9 947.7M1041.6 865.2L1065.5 879.0M1041.6 865.2L1017.8 879.0M1065.5 879.0L1065.5 906.5M1065.5 906.5L1041.6 920.2M1065.5 906.5L1089.3 920.2M1041.6 920.2L1041.6 947.7M1089.3 865.2L1113.1 879.0M1089.3 865.2L1065.5 879.0M1113.1 879.0L1113.1 906.5M1113.1 906.5L1089.3 920.2M1113.1 906.5L1137.0 920.2M1089.3 920.2L1089.3 947.7" stroke="#e27cfb" stroke-width="1.2" fill="none"/>
<circle cx="612.4" cy="617.7" r="7.4" fill="url(#atom)"/>
<circle cx="636.2" cy="631.5" r="7.4" fill="url(#atom)"/>
<circle cx="636.2" cy="659.0" r="7.4" fill="url(#atom)"/>
<circle cx="612.4" cy="672.7" r="7.4" fill="url(#atom)"/>
<circle cx="660.1" cy="617.7" r="7.4" fill="url(#atom)"/>
<circle cx="683.9" cy="631.5" r="7.4" fill="url(#atom)"/>
<circle cx="683.9" cy="659.0" r="7.4" fill="url(#atom)"/>
<circle cx="660.1" cy="672.7" r="7.4" fill="url(#atom)"/>
<circle cx="707.8" cy="617.7" r="7.4" fill="url(#atom)"/>
<circle cx="731.6" cy="631.5" r="7.4" fill="url(#atom)"/>
<circle cx="731.6" cy="659.0" r="7.4" fill="url(#atom)"/>
<circle cx="707.8" cy="672.7" r="7.4" fill="url(#atom)"/>
<circle cx="755.5" cy="617.7" r="7.4" fill="url(#atom)"/>
<circle cx="779.3" cy="631.5" r="7.4" fill="url(#atom)"/>
<circle cx="779.3" cy="659.0" r="7.4" fill="url(#atom)"/>
<circle cx="755.5" cy="672.7" r="7.4" fill="url(#atom)"/>
<circle cx="803.2" cy="617.7" r="7.4" fill="url(#atom)"/>
<circle cx="827.0" cy="631.5" r="7.4" fill="url(#atom)"/>
<circle cx="827.0" cy="659.0" r="7.4" fill="url(#atom)"/>
<circle cx="803.2" cy="672.7" r="7.4" fill="url(#atom)"/>
<circle cx="850.8" cy="617.7" r="7.4" fill="url(#atom)"/>
<circle cx="874.7" cy="631.5" r="7.4" fill="url(#atom)"/>
<circle cx="874.7" cy="659.0" r="7.4" fill="url(#atom)"/>
<circle cx="850.8" cy="672.7" r="7.4" fill="url(#atom)"/>
<circle cx="898.5" cy="617.7" r="7.4" fill="url(#atom)"/>
<circle cx="922.4" cy="631.5" r="7.4" fill="url(#atom)"/>
<circle cx="922.4" cy="659.0" r="7.4" fill="url(#atom)"/>
<circle cx="898.5" cy="672.7" r="7.4" fill="url(#atom)"/>
<circle cx="946.2" cy="617.7" r="7.4" fill="url(#atom)"/>
<circle cx="970.1" cy="631.5" r="7.4" fill="url(#atom)"/>
<circle cx="970.1" cy="659.0" r="7.4" fill="url(#atom)"/>
<circle cx="946.2" cy="672.7" r="7.4" fill="url(#atom)"/>
<circle cx="993.9" cy="617.7" r="7.4" fill="url(#atom)"/>
<circle cx="1017.8" cy="631.5" r="7.4" fill="url(#atom)"/>
<circle cx="1017.8" cy="659.0" r="7.4" fill="url(#atom)"/>
<circle cx="993.9" cy="672.7" r="7.4" fill="url(#atom)"/>
<circle cx="1041.6" cy="617.7" r="7.4" fill="url(#atom)"/>
<circle cx="1065.5" cy="631.5" r="7.4" fill="url(#atom)"/>
<circle cx="1065.5" cy="659.0" r="7.4" fill="url(#atom)"/>
<circle cx="1041.6" cy="672.7" r="7.4" fill="url(#atom)"/>
<circle cx="1089.3" cy="617.7" r="7.4" fill="url(#atom)"/>
<circle cx="1113.1" cy="631.5" r="7.4" fill="url(#atom)"/>
<circle cx="1113.1" cy="659.0" r="7.4" fill="url(#atom)"/>
<circle cx="1089.3" cy="672.7" r="7.4" fill="url(#atom)"/>
<circle cx="612.4" cy="700.2" r="7.4" fill="url(#atom)"/>
<circle cx="636.2" cy="714.0" r="7.4" fill="url(#atom)"/>
<circle cx="636.2" cy="741.5" r="7.4" fill="url(#atom)"/>
<circle cx="612.4" cy="755.2" r="7.4" fill="url(#atom)"/>
<circle cx="660.1" cy="700.2" r="7.4" fill="url(#atom)"/>
<circle cx="683.9" cy="714.0" r="7.4" fill="url(#atom)"/>
<circle cx="683.9" cy="741.5" r="7.4" fill="url(#atom)"/>
<circle cx="660.1" cy="755.2" r="7.4" fill="url(#atom)"/>
<circle cx="707.8" cy="700.2" r="7.4" fill="url(#atom)"/>
<circle cx="731.6" cy="714.0" r="7.4" fill="url(#atom)"/>
<circle cx="731.6" cy="741.5" r="7.4" fill="url(#atom)"/>
<circle cx="707.8" cy="755.2" r="7.4" fill="url(#atom)"/>
<circle cx="755.5" cy="700.2" r="7.4" fill="url(#atom)"/>
<circle cx="779.3" cy="714.0" r="7.4" fill="url(#atom)"/>
<circle cx="779.3" cy="741.5" r="7.4" fill="url(#atom)"/>
<circle cx="755.5" cy="755.2" r="7.4" fill="url(#atom)"/>
<circle cx="803.2" cy="700.2" r="7.4" fill="url(#atom)"/>
<circle cx="827.0" cy="714.0" r="7.4" fill="url(#atom)"/>
<circle cx="827.0" cy="741.5" r="7.4" fill="url(#atom)"/>
<circle cx="803.2" cy="755.2" r="7.4" fill="url(#atom)"/>
<circle cx="850.8" cy="700.2" r="7.4" fill="url(#atom)"/>
<circle cx="874.7" cy="714.0" r="7.4" fill="url(#atom)"/>
<circle cx="874.7" cy="741.5" r="7.4" fill="url(#atom)"/>
<circle cx="850.8" cy="755.2" r="7.4" fill="url(#atom)"/>
<circle cx="898.5" cy="700.2" r="7.4" fill="url(#atom)"/>
<circle cx="922.4" cy="714.0" r="7.4" fill="url(#atom)"/>
<circle cx="922.4" cy="741.5" r="7.4" fill="url(#atom)"/>
<circle cx="898.5" cy="755.2" r="7.4" fill="url(#atom)"/>
<circle cx="946.2" cy="700.2" r="7.4" fill="url(#atom)"/>
<circle cx="970.1" cy="714.0" r="7.4" fill="url(#atom)"/>
<circle cx="970.1" cy="741.5" r="7.4" fill="url(#atom)"/>
<circle cx="946.2" cy="755.2" r="7.4" fill="url(#atom)"/>
<circle cx="993.9" cy="700.2" r="7.4" fill="url(#atom)"/>
<circle cx="1017.8" cy="714.0" r="7.4" fill="url(#atom)"/>
<circle cx="1017.8" cy="741.5" r="7.4" fill="url(#atom)"/>
<circle cx="993.9" cy="755.2" r="7.4" fill="url(#atom)"/>
<circle cx="1041.6" cy="700.2" r="7.4" fill="url(#atom)"/>
<circle cx="1065.5" cy="714.0" r="7.4" fill="url(#atom)"/>
<circle cx="1065.5" cy="741.5" r="7.4" fill="url(#atom)"/>
<circle cx="1041.6" cy="755.2" r="7.4" fill="url(#atom)"/>
<circle cx="1089.3" cy="700.2" r="7.4" fill="url(#atom)"/>
<circle cx="1113.1" cy="714.0" r="7.4" fill="url(#atom)"/>
<circle cx="1113.1" cy="741.5" r="7.4" fill="url(#atom)"/>
<circle cx="1089.3" cy="755.2" r="7.4" fill="url(#atom)"/>
<circle cx="612.4" cy="782.7" r="7.4" fill="url(#atom)"/>
<circle cx="636.2" cy="796.5" r="7.4" fill="url(#atom)"/>
<circle cx="636.2" cy="824.0" r="7.4" fill="url(#atom)"/>
<circle cx="612.4" cy="837.7" r="7.4" fill="url(#atom)"/>
<circle cx="660.1" cy="782.7" r="7.4" fill="url(#atom)"/>
<circle cx="683.9" cy="796.5" r="7.4" fill="url(#atom)"/>
<circle cx="683.9" cy="824.0" r="7.4" fill="url(#atom)"/>
<circle cx="660.1" cy="837.7" r="7.4" fill="url(#atom)"/>
<circle cx="707.8" cy="782.7" r="7.4" fill="url(#atom)"/>
<circle cx="731.6" cy="796.5" r="7.4" fill="url(#atom)"/>
<circle cx="731.6" cy="824.0" r="7.4" fill="url(#atom)"/>
<circle cx="707.8" cy="837.7" r="7.4" fill="url(#atom)"/>
<circle cx="755.5" cy="782.7" r="7.4" fill="url(#atom)"/>
<circle cx="779.3" cy="796.5" r="7.4" fill="url(#atom)"/>
<circle cx="779.3" cy="824.0" r="7.4" fill="url(#atom)"/>
<circle cx="755.5" cy="837.7" r="7.4" fill="url(#atom)"/>
<circle cx="803.2" cy="782.7" r="7.4" fill="url(#atom)"/>
<circle cx="827.0" cy="796.5" r="7.4" fill="url(#atom)"/>
<circle cx="827.0" cy="824.0" r="7.4" fill="url(#atom)"/>
<circle cx="803.2" cy="837.7" r="7.4" fill="url(#atom)"/>
<circle cx="874.7" cy="796.5" r="7.4" fill="url(#atom)"/>
<circle cx="874.7" cy="824.0" r="7.4" fill="url(#atom)"/>
<circle cx="850.8" cy="837.7" r="7.4" fill="url(#atom)"/>
<circle cx="898.5" cy="782.7" r="7.4" fill="url(#atom)"/>
<circle cx="922.4" cy="796.5" r="7.4" fill="url(#atom)"/>
<circle cx="922.4" cy="824.0" r="7.4" fill="url(#atom)"/>
<circle cx="898.5" cy="837.7" r="7.4" fill="url(#atom)"/>
<circle cx="946.2" cy="782.7" r="7.4" fill="url(#atom)"/>
<circle cx="970.1" cy="796.5" r="7.4" fill="url(#atom)"/>
<circle cx="970.1" cy="824.0" r="7.4" fill="url(#atom)"/>
<circle cx="946.2" cy="837.7" r="7.4" fill="url(#atom)"/>
<circle cx="993.9" cy="782.7" r="7.4" fill="url(#atom)"/>
<circle cx="1017.8" cy="796.5" r="7.4" fill="url(#atom)"/>
<circle cx="1017.8" cy="824.0" r="7.4" fill="url(#atom)"/>
<circle cx="993.9" cy="837.7" r="7.4" fill="url(#atom)"/>
<circle cx="1041.6" cy="782.7" r="7.4" fill="url(#atom)"/>
<circle cx="1065.5" cy="796.5" r="7.4" fill="url(#atom)"/>
<circle cx="1065.5" cy="824.0" r="7.4" fill="url(#atom)"/>
<circle cx="1041.6" cy="837.7" r="7.4" fill="url(#atom)"/>
<circle cx="1089.3" cy="782.7" r="7.4" fill="url(#atom)"/>
<circle cx="1113.1" cy="796.5" r="7.4" fill="url(#atom)"/>
<circle cx="1113.1" cy="824.0" r="7.4" fill="url(#atom)"/>
<circle cx="1089.3" cy="837.7" r="7.4" fill="url(#atom)"/>
<circle cx="612.4" cy="865.2" r="7.4" fill="url(#atom)"/>
<circle cx="636.2" cy="879.0" r="7.4" fill="url(#atom)"/>
<circle cx="636.2" cy="906.5" r="7.4" fill="url(#atom)"/>
<circle cx="612.4" cy="920.2" r="7.4" fill="url(#atom)"/>
<circle cx="660.1" cy="865.2" r="7.4" fill="url(#atom)"/>
<circle cx="683.9" cy="879.0" r="7.4" fill="url(#atom)"/>
<circle cx="683.9" cy="906.5" r="7.4" fill="url(#atom)"/>
<circle cx="660.1" cy="920.2" r="7.4" fill="url(#atom)"/>
<circle cx="707.8" cy="865.2" r="7.4" fill="url(#atom)"/>
<circle cx="731.6" cy="879.0" r="7.4" fill="url(#atom)"/>
<circle cx="731.6" cy="906.5" r="7.4" fill="url(#atom)"/>
<circle cx="707.8" cy="920.2" r="7.4" fill="url(#atom)"/>
<circle cx="755.5" cy="865.2" r="7.4" fill="url(#atom)"/>
<circle cx="779.3" cy="879.0" r="7.4" fill="url(#atom)"/>
<circle cx="779.3" cy="906.5" r="7.4" fill="url(#atom)"/>
<circle cx="755.5" cy="920.2" r="7.4" fill="url(#atom)"/>
<circle cx="803.2" cy="865.2" r="7.4" fill="url(#atom)"/>
<circle cx="827.0" cy="879.0" r="7.4" fill="url(#atom)"/>
<circle cx="827.0" cy="906.5" r="7.4" fill="url(#atom)"/>
<circle cx="803.2" cy="920.2" r="7.4" fill="url(#atom)"/>
<circle cx="850.8" cy="865.2" r="7.4" fill="url(#atom)"/>
<circle cx="874.7" cy="879.0" r="7.4" fill="url(#atom)"/>
<circle cx="874.7" cy="906.5" r="7.4" fill="url(#atom)"/>
<circle cx="850.8" cy="920.2" r="7.4" fill="url(#atom)"/>
<circle cx="898.5" cy="865.2" r="7.4" fill="url(#atom)"/>
<circle cx="922.4" cy="879.0" r="7.4" fill="url(#atom)"/>
<circle cx="922.4" cy="906.5" r="7.4" fill="url(#atom)"/>
<circle cx="898.5" cy="920.2" r="7.4" fill="url(#atom)"/>
<circle cx="946.2" cy="865.2" r="7.4" fill="url(#atom)"/>
<circle cx="970.1" cy="879.0" r="7.4" fill="url(#atom)"/>
<circle cx="970.1" cy="906.5" r="7.4" fill="url(#atom)"/>
<circle cx="946.2" cy="920.2" r="7.4" fill="url(#atom)"/>
<circle cx="993.9" cy="865.2" r="7.4" fill="url(#atom)"/>
<circle cx="1017.8" cy="879.0" r="7.4" fill="url(#atom)"/>
<circle cx="1017.8" cy="906.5" r="7.4" fill="url(#atom)"/>
<circle cx="993.9" cy="920.2" r="7.4" fill="url(#atom)"/>
<circle cx="1041.6" cy="865.2" r="7.4" fill="url(#atom)"/>
<circle cx="1065.5" cy="879.0" r="7.4" fill="url(#atom)"/>
<circle cx="1065.5" cy="906.5" r="7.4" fill="url(#atom)"/>
<circle cx="1041.6" cy="920.2" r="7.4" fill="url(#atom)"/>
<circle cx="1089.3" cy="865.2" r="7.4" fill="url(#atom)"/>
<circle cx="1113.1" cy="879.0" r="7.4" fill="url(#atom)"/>
<circle cx="1113.1" cy="906.5" r="7.4" fill="url(#atom)"/>
<circle cx="1089.3" cy="920.2" r="7.4" fill="url(#atom)"/>
<circle cx="849.4" cy="784" r="85" fill="url(#glowD)"/>
</g>
<g transform="translate(654.7 117.9) rotate(42.62)"><rect x="0" y="-3.7" width="43.4" height="7.4" fill="url(#shaft)"/><ellipse cx="0.4" cy="0" rx="1.9" ry="3.7" fill="#ee7c7c"/><path d="M79.9 0L40.4 -10.75L38.2 9.25L41.4 10.75Z" fill="#e63030"/><path d="M79.4 0.5L48.9 1.5L44.6 7.3Z" fill="#000" opacity="0.9"/><path d="M79.4 0.5L48.9 1.5L44.6 7.3Z" fill="none" stroke="#5a0c0c" stroke-width="1.2" opacity="0.8"/></g>
<g transform="translate(653.0 632.5) rotate(43.66)"><rect x="0" y="-3.5" width="37.2" height="7.0" fill="url(#shaft)"/><ellipse cx="0.4" cy="0" rx="1.9" ry="3.5" fill="#ee7c7c"/><path d="M69.7 0L34.2 -11.0L32.0 9.5L35.2 11.0Z" fill="#e63030"/><path d="M69.2 0.5L42.7 1.3L38.4 7.6Z" fill="#000" opacity="0.9"/><path d="M69.2 0.5L42.7 1.3L38.4 7.6Z" fill="none" stroke="#5a0c0c" stroke-width="1.2" opacity="0.8"/></g>
<circle cx="724.2" cy="185.7" r="11.8" fill="url(#rball)"/>
<circle cx="717" cy="691.4" r="12.3" fill="url(#rball)"/>
<path d="M747.3 194.2L759.5 205.9M764.0 210.4L776.2 222.6M781.3 227.1L793.4 239.3M798.0 243.4L810.7 255.0M739.2 203.8L750.9 215.5M755.9 220.6L768.1 232.2M772.6 236.3L784.8 248.4M789.9 252.5L801.5 264.1M808.3 260.8L815.9 267.8" stroke="#ff0000" stroke-width="4.8" fill="none"/>
<path d="M739.5 718.8C741.1 721.1 747.1 729.9 749.3 733.0M752.3 738.0C754.3 741.3 759.5 749.9 761.4 753.3M763.6 758.6C765.0 762.2 768.7 771.0 770.0 774.6M771.0 780.6C771.6 784.5 773.0 794.2 773.2 798.1M772.1 804.1C771.2 808.0 769.0 817.6 767.8 821.5M765.1 827.5C763.3 831.1 759.1 839.4 757.2 842.9M753.5 848.2C751.2 851.4 745.7 859.0 743.3 862.0M739.5 866.3C737.0 869.3 730.9 877.1 728.4 880.2M724.1 884.4C721.4 887.3 714.3 895.1 712.4 897.2" stroke="#ff0000" stroke-width="4.8" fill="none"/>
<g opacity="0.999">
<line x1="1224.5" y1="403.7" x2="1715" y2="403.7" stroke="#ff0000" stroke-width="2" stroke-dasharray="1.9 1.47"/>
<path d="M1306.4 332.2H1343.4M1306.4 327.4v9.6M1343.4 327.4v9.6" stroke="#0000ff" stroke-width="2.3" fill="none"/>
<path d="M1330.8 311.8H1346.6M1330.8 307.0v9.6M1346.6 307.0v9.6" stroke="#0000ff" stroke-width="2.3" fill="none"/>
<path d="M1446.9 209.4H1475.2M1446.9 204.6v9.6M1475.2 204.6v9.6" stroke="#0000ff" stroke-width="2.3" fill="none"/>
<path d="M1478.1 188.9H1499.0M1478.1 184.1v9.6M1499.0 184.1v9.6" stroke="#0000ff" stroke-width="2.3" fill="none"/>
<path d="M1515.5 168.5H1572.0M1515.5 163.7v9.6M1572.0 163.7v9.6" stroke="#0000ff" stroke-width="2.3" fill="none"/>
<path d="M1536.2 148.0H1586.1M1536.2 143.2v9.6M1586.1 143.2v9.6" stroke="#0000ff" stroke-width="2.3" fill="none"/>
<path d="M1553.0 127.5H1610.8M1553.0 122.7v9.6M1610.8 122.7v9.6" stroke="#0000ff" stroke-width="2.3" fill="none"/>
<path d="M1566.5 107.0H1638.6M1566.5 102.2v9.6M1638.6 102.2v9.6" stroke="#0000ff" stroke-width="2.3" fill="none"/>
<path d="M1581.4 86.6H1709.0M1581.4 81.8v9.6M1709.0 81.8v9.6" stroke="#0000ff" stroke-width="2.3" fill="none"/>
<path d="M1300.3 516.5H1344.9M1300.3 511.7v9.6M1344.9 511.7v9.6" stroke="#0000ff" stroke-width="2.3" fill="none"/>
<path d="M1303.3 537.0H1377.0M1303.3 532.2v9.6M1377.0 532.2v9.6" stroke="#0000ff" stroke-width="2.3" fill="none"/>
<path d="M1333.2 557.5H1394.2M1333.2 552.7v9.6M1394.2 552.7v9.6" stroke="#0000ff" stroke-width="2.3" fill="none"/>
<path d="M1353.4 578.0H1412.7M1353.4 573.2v9.6M1412.7 573.2v9.6" stroke="#0000ff" stroke-width="2.3" fill="none"/>
<path d="M1361.2 598.4H1430.5M1361.2 593.6v9.6M1430.5 593.6v9.6" stroke="#0000ff" stroke-width="2.3" fill="none"/>
<path d="M1371.3 618.9H1452.9M1371.3 614.1v9.6M1452.9 614.1v9.6" stroke="#0000ff" stroke-width="2.3" fill="none"/>
<path d="M1390.2 639.4H1457.5M1390.2 634.6v9.6M1457.5 634.6v9.6" stroke="#0000ff" stroke-width="2.3" fill="none"/>
<path d="M1421.4 659.9H1491.7M1421.4 655.1v9.6M1491.7 655.1v9.6" stroke="#0000ff" stroke-width="2.3" fill="none"/>
<path d="M1452.5 680.3H1510.0M1452.5 675.5v9.6M1510.0 675.5v9.6" stroke="#0000ff" stroke-width="2.3" fill="none"/>
<path d="M1460.3 700.8H1541.3M1460.3 696.0v9.6M1541.3 696.0v9.6" stroke="#0000ff" stroke-width="2.3" fill="none"/>
<path d="M1501.1 721.3H1537.8M1501.1 716.5v9.6M1537.8 716.5v9.6" stroke="#0000ff" stroke-width="2.3" fill="none"/>
<path d="M1526.1 741.8H1543.8M1526.1 737.0v9.6M1543.8 737.0v9.6" stroke="#0000ff" stroke-width="2.3" fill="none"/>
<path d="M1546.2 782.7H1573.9M1546.2 777.9v9.6M1573.9 777.9v9.6" stroke="#0000ff" stroke-width="2.3" fill="none"/>
<path d="M1572.7 803.2H1589.8M1572.7 798.4v9.6M1589.8 798.4v9.6" stroke="#0000ff" stroke-width="2.3" fill="none"/>
<path d="M1569.2 823.7H1587.7M1569.2 818.9v9.6M1587.7 818.9v9.6" stroke="#0000ff" stroke-width="2.3" fill="none"/>
<path d="M1583.2 844.1H1606.8M1583.2 839.3v9.6M1606.8 839.3v9.6" stroke="#0000ff" stroke-width="2.3" fill="none"/>
<circle cx="1296.7" cy="373.2" r="8.5" fill="url(#ball)"/>
<circle cx="1301.1" cy="352.7" r="8.5" fill="url(#ball)"/>
<circle cx="1324.7" cy="332.2" r="8.5" fill="url(#ball)"/>
<circle cx="1338.8" cy="311.8" r="8.5" fill="url(#ball)"/>
<circle cx="1362.4" cy="291.3" r="8.5" fill="url(#ball)"/>
<circle cx="1386.3" cy="270.8" r="8.5" fill="url(#ball)"/>
<circle cx="1388.0" cy="250.4" r="8.5" fill="url(#ball)"/>
<circle cx="1439.9" cy="229.9" r="8.5" fill="url(#ball)"/>
<circle cx="1460.6" cy="209.4" r="8.5" fill="url(#ball)"/>
<circle cx="1488.6" cy="188.9" r="8.5" fill="url(#ball)"/>
<circle cx="1543.5" cy="168.5" r="8.5" fill="url(#ball)"/>
<circle cx="1561.2" cy="148.0" r="8.5" fill="url(#ball)"/>
<circle cx="1582.0" cy="127.5" r="8.5" fill="url(#ball)"/>
<circle cx="1602.7" cy="107.0" r="8.5" fill="url(#ball)"/>
<circle cx="1644.9" cy="86.6" r="8.5" fill="url(#ball)"/>
<circle cx="1322.6" cy="516.5" r="8.5" fill="url(#ball)"/>
<circle cx="1339.2" cy="537.0" r="8.5" fill="url(#ball)"/>
<circle cx="1363.6" cy="557.5" r="8.5" fill="url(#ball)"/>
<circle cx="1383.1" cy="578.0" r="8.5" fill="url(#ball)"/>
<circle cx="1395.6" cy="598.4" r="8.5" fill="url(#ball)"/>
<circle cx="1411.9" cy="618.9" r="8.5" fill="url(#ball)"/>
<circle cx="1423.0" cy="639.4" r="8.5" fill="url(#ball)"/>
<circle cx="1456.3" cy="659.9" r="8.5" fill="url(#ball)"/>
<circle cx="1480.8" cy="680.3" r="8.5" fill="url(#ball)"/>
<circle cx="1500.7" cy="700.8" r="8.5" fill="url(#ball)"/>
<circle cx="1518.6" cy="721.3" r="8.5" fill="url(#ball)"/>
<circle cx="1535.0" cy="741.8" r="8.5" fill="url(#ball)"/>
<circle cx="1537.3" cy="762.2" r="8.5" fill="url(#ball)"/>
<circle cx="1559.9" cy="782.7" r="8.5" fill="url(#ball)"/>
<circle cx="1581.1" cy="803.2" r="8.5" fill="url(#ball)"/>
<circle cx="1577.6" cy="823.7" r="8.5" fill="url(#ball)"/>
<circle cx="1594.4" cy="844.1" r="8.5" fill="url(#ball)"/>
<line x1="1224.5" y1="403.7" x2="1692.9" y2="41.7" stroke="#000" stroke-width="2.6" stroke-dasharray="7.5 2.65"/>
<line x1="1224.5" y1="403.7" x2="1655.1" y2="880.4" stroke="#000" stroke-width="2.6" stroke-dasharray="7.5 2.65"/>
<rect x="1224.5" y="24.4" width="490.9" height="860.3" fill="none" stroke="#000" stroke-width="2.7"/>
<path d="M1224.5 45.6h7.3M1224.5 250.4h7.3M1224.5 455.1h7.3M1224.5 659.9h7.3M1224.5 864.6h7.3M1224.5 148.0h4.4M1224.5 352.7h4.4M1224.5 557.5h4.4M1224.5 762.2h4.4M1371.7 884.7v-7.2M1519.0 884.7v-7.2M1666.2 884.7v-7.2M1298.1 884.7v-3.4M1445.4 884.7v-3.4M1592.6 884.7v-3.4" stroke="#000" stroke-width="2.6" fill="none"/>
<text transform="translate(1216.6 52.5)" font-size="25.8" text-anchor="end" >1.0</text>
<text transform="translate(1216.6 257.2)" font-size="25.8" text-anchor="end" >0.5</text>
<text transform="translate(1216.6 462.0)" font-size="25.8" text-anchor="end" >0.0</text>
<text transform="translate(1216.6 666.8)" font-size="25.8" text-anchor="end" >-0.5</text>
<text transform="translate(1216.6 871.5)" font-size="25.8" text-anchor="end" >-1.0</text>
<text transform="translate(1224.2 913.0)" font-size="25.8" text-anchor="middle" >0.0</text>
<text transform="translate(1371.4 913.0)" font-size="25.8" text-anchor="middle" >0.3</text>
<text transform="translate(1518.7 913.0)" font-size="25.8" text-anchor="middle" >0.6</text>
<text transform="translate(1665.9 913.0)" font-size="25.8" text-anchor="middle" >0.9</text>
<text transform="translate(1160.3 453.7) rotate(-90) scale(1.03 1)" font-size="31.2" text-anchor="middle">E (eV)</text>
<text transform="translate(1470.3 962.2) scale(1.03 1)" font-size="30.6" text-anchor="middle">1/<tspan font-style="italic">d</tspan> (nm<tspan font-size="20" dy="-12">-1</tspan><tspan dy="12">)</tspan></text>
<text x="1649.4" y="385" font-size="38" font-weight="bold" font-style="italic" fill="#ff0000">E<tspan font-size="26" dy="8.6" dx="-0.6">D</tspan></text>
<text transform="translate(13.5 45.8) scale(1.027 1.0)" font-size="30" text-anchor="start" >(a)</text>
<text transform="translate(13.5 539.8) scale(1.027 1.0)" font-size="30" text-anchor="start" >(b)</text>
<text transform="translate(577.2 45.8) scale(1.027 1.0)" font-size="30" text-anchor="start" >(c)</text>
<text transform="translate(576.4 539.8) scale(1.027 1.0)" font-size="30" text-anchor="start" >(d)</text>
<text transform="translate(1139 45.8) scale(1.027 1.0)" font-size="30" text-anchor="start" >(e)</text>
<text transform="translate(846.55 83.3) scale(1.0165 0.985)" font-size="29.6" font-weight="bold" fill="#0000ff" text-anchor="middle">Nearly neutral vacancy</text>
<text transform="translate(844.7 581.7) scale(1.0165 0.985)" font-size="29.6" font-weight="bold" fill="#cd6e28" text-anchor="middle">Charged vacancy</text>
</g>
<path d="M1730.38 0V986M0 985.38H1731" stroke="#000" stroke-width="1.25" fill="none"/>
</svg>
</body></html>
